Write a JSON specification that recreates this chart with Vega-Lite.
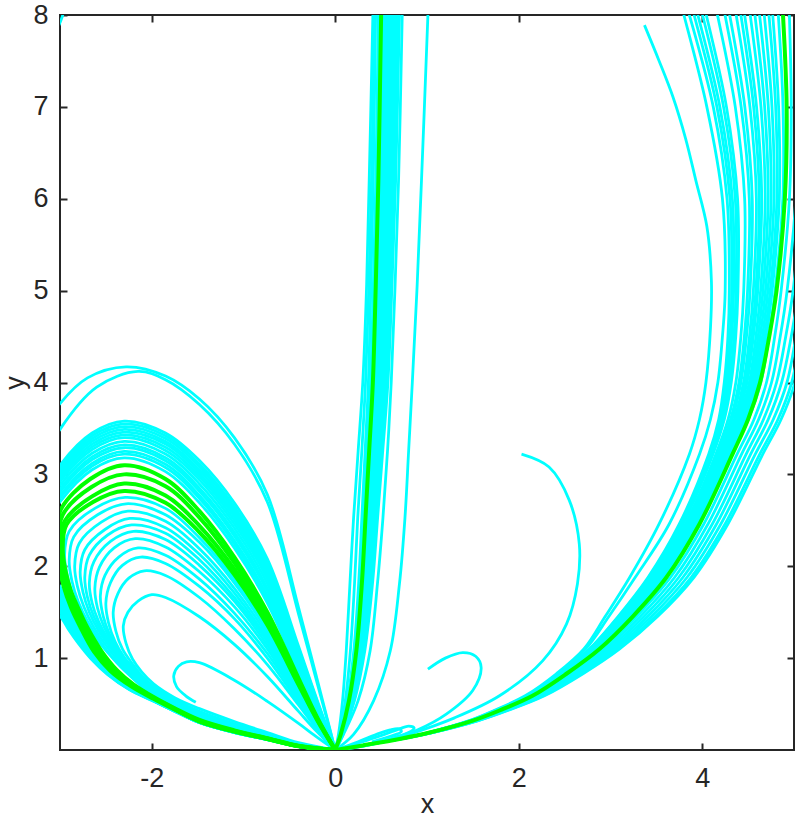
{
"$schema":"https://vega.github.io/schema/vega-lite/v6.json",
"width":734,"height":735,
"autosize":{"type":"none"},
"padding":{"left":60,"top":15,"right":2,"bottom":70},
"background":"white",
"config":{
 "view":{"stroke":"#262626","strokeWidth":2},
 "axis":{"grid":false,"domain":false,"tickColor":"#262626","tickWidth":2,"tickSize":-7,"labelColor":"#262626","titleColor":"#262626","labelFont":"Liberation Sans","titleFont":"Liberation Sans","labelFontSize":27,"titleFontSize":27,"titleFontWeight":"normal","labelOverlap":false,"labelFlush":false}
},
"datasets":{
"cy":[
{"c":"L169","i":0,"x":0,"y":0},{"c":"L169","i":1,"x":-0.2,"y":0.2},{"c":"L169","i":2,"x":-0.4,"y":0.42},{"c":"L169","i":3,"x":-0.74,"y":0.8},{"c":"L169","i":4,"x":-1.1,"y":1.15},{"c":"L169","i":5,"x":-1.48,"y":1.45},{"c":"L169","i":6,"x":-1.85,"y":1.66},{"c":"L169","i":7,"x":-2.0,"y":1.69},{"c":"L169","i":8,"x":-2.15,"y":1.62},{"c":"L169","i":9,"x":-2.26,"y":1.5},{"c":"L169","i":10,"x":-2.31,"y":1.35},{"c":"L169","i":11,"x":-2.28,"y":1.16},{"c":"L169","i":12,"x":-2.21,"y":0.99},{"c":"L169","i":13,"x":-2.11,"y":0.85},{"c":"L169","i":14,"x":-1.98,"y":0.72},{"c":"L169","i":15,"x":-1.75,"y":0.57},{"c":"L169","i":16,"x":-1.48,"y":0.45},{"c":"L169","i":17,"x":-1.1,"y":0.31},{"c":"L169","i":18,"x":-0.74,"y":0.19},{"c":"L169","i":19,"x":-0.4,"y":0.08},{"c":"L169","i":20,"x":0,"y":0},
{"c":"L195","i":0,"x":0,"y":0},{"c":"L195","i":1,"x":-0.2,"y":0.23},{"c":"L195","i":2,"x":-0.4,"y":0.49},{"c":"L195","i":3,"x":-0.74,"y":0.93},{"c":"L195","i":4,"x":-1.1,"y":1.32},{"c":"L195","i":5,"x":-1.48,"y":1.66},{"c":"L195","i":6,"x":-1.85,"y":1.9},{"c":"L195","i":7,"x":-2.08,"y":1.95},{"c":"L195","i":8,"x":-2.25,"y":1.87},{"c":"L195","i":9,"x":-2.37,"y":1.7},{"c":"L195","i":10,"x":-2.42,"y":1.5},{"c":"L195","i":11,"x":-2.39,"y":1.29},{"c":"L195","i":12,"x":-2.32,"y":1.1},{"c":"L195","i":13,"x":-2.22,"y":0.95},{"c":"L195","i":14,"x":-2.1,"y":0.8},{"c":"L195","i":15,"x":-1.98,"y":0.69},{"c":"L195","i":16,"x":-1.75,"y":0.55},{"c":"L195","i":17,"x":-1.48,"y":0.42},{"c":"L195","i":18,"x":-1.1,"y":0.285},{"c":"L195","i":19,"x":-0.74,"y":0.175},{"c":"L195","i":20,"x":-0.4,"y":0.07},{"c":"L195","i":21,"x":0,"y":0},
{"c":"L210","i":0,"x":0,"y":0},{"c":"L210","i":1,"x":-0.2,"y":0.25},{"c":"L210","i":2,"x":-0.4,"y":0.52},{"c":"L210","i":3,"x":-0.74,"y":1.0},{"c":"L210","i":4,"x":-1.1,"y":1.43},{"c":"L210","i":5,"x":-1.48,"y":1.78},{"c":"L210","i":6,"x":-1.85,"y":2.03},{"c":"L210","i":7,"x":-2.12,"y":2.1},{"c":"L210","i":8,"x":-2.32,"y":2.01},{"c":"L210","i":9,"x":-2.45,"y":1.82},{"c":"L210","i":10,"x":-2.5,"y":1.6},{"c":"L210","i":11,"x":-2.47,"y":1.38},{"c":"L210","i":12,"x":-2.4,"y":1.18},{"c":"L210","i":13,"x":-2.3,"y":1.01},{"c":"L210","i":14,"x":-2.16,"y":0.85},{"c":"L210","i":15,"x":-1.98,"y":0.67},{"c":"L210","i":16,"x":-1.75,"y":0.54},{"c":"L210","i":17,"x":-1.48,"y":0.405},{"c":"L210","i":18,"x":-1.1,"y":0.272},{"c":"L210","i":19,"x":-0.74,"y":0.167},{"c":"L210","i":20,"x":-0.4,"y":0.066},{"c":"L210","i":21,"x":0,"y":0},
{"c":"L220","i":0,"x":0,"y":0},{"c":"L220","i":1,"x":-0.2,"y":0.26},{"c":"L220","i":2,"x":-0.4,"y":0.55},{"c":"L220","i":3,"x":-0.74,"y":1.05},{"c":"L220","i":4,"x":-1.1,"y":1.49},{"c":"L220","i":5,"x":-1.48,"y":1.86},{"c":"L220","i":6,"x":-1.85,"y":2.12},{"c":"L220","i":7,"x":-2.15,"y":2.2},{"c":"L220","i":8,"x":-2.36,"y":2.1},{"c":"L220","i":9,"x":-2.51,"y":1.9},{"c":"L220","i":10,"x":-2.56,"y":1.68},{"c":"L220","i":11,"x":-2.53,"y":1.46},{"c":"L220","i":12,"x":-2.46,"y":1.26},{"c":"L220","i":13,"x":-2.36,"y":1.08},{"c":"L220","i":14,"x":-2.22,"y":0.9},{"c":"L220","i":15,"x":-1.98,"y":0.655},{"c":"L220","i":16,"x":-1.75,"y":0.525},{"c":"L220","i":17,"x":-1.48,"y":0.393},{"c":"L220","i":18,"x":-1.1,"y":0.263},{"c":"L220","i":19,"x":-0.74,"y":0.161},{"c":"L220","i":20,"x":-0.4,"y":0.063},{"c":"L220","i":21,"x":0,"y":0},
{"c":"L230","i":0,"x":0,"y":0},{"c":"L230","i":1,"x":-0.2,"y":0.27},{"c":"L230","i":2,"x":-0.4,"y":0.57},{"c":"L230","i":3,"x":-0.74,"y":1.1},{"c":"L230","i":4,"x":-1.1,"y":1.56},{"c":"L230","i":5,"x":-1.48,"y":1.94},{"c":"L230","i":6,"x":-1.85,"y":2.21},{"c":"L230","i":7,"x":-2.18,"y":2.3},{"c":"L230","i":8,"x":-2.41,"y":2.2},{"c":"L230","i":9,"x":-2.57,"y":1.99},{"c":"L230","i":10,"x":-2.62,"y":1.76},{"c":"L230","i":11,"x":-2.59,"y":1.54},{"c":"L230","i":12,"x":-2.52,"y":1.34},{"c":"L230","i":13,"x":-2.42,"y":1.15},{"c":"L230","i":14,"x":-2.28,"y":0.96},{"c":"L230","i":15,"x":-2.12,"y":0.78},{"c":"L230","i":16,"x":-1.98,"y":0.64},{"c":"L230","i":17,"x":-1.75,"y":0.51},{"c":"L230","i":18,"x":-1.48,"y":0.381},{"c":"L230","i":19,"x":-1.1,"y":0.254},{"c":"L230","i":20,"x":-0.74,"y":0.155},{"c":"L230","i":21,"x":-0.4,"y":0.06},{"c":"L230","i":22,"x":0,"y":0},
{"c":"L238","i":0,"x":0,"y":0},{"c":"L238","i":1,"x":-0.2,"y":0.28},{"c":"L238","i":2,"x":-0.4,"y":0.6},{"c":"L238","i":3,"x":-0.74,"y":1.14},{"c":"L238","i":4,"x":-1.1,"y":1.62},{"c":"L238","i":5,"x":-1.48,"y":2.01},{"c":"L238","i":6,"x":-1.85,"y":2.29},{"c":"L238","i":7,"x":-2.2,"y":2.38},{"c":"L238","i":8,"x":-2.45,"y":2.27},{"c":"L238","i":9,"x":-2.63,"y":2.05},{"c":"L238","i":10,"x":-2.68,"y":1.82},{"c":"L238","i":11,"x":-2.65,"y":1.6},{"c":"L238","i":12,"x":-2.58,"y":1.4},{"c":"L238","i":13,"x":-2.48,"y":1.21},{"c":"L238","i":14,"x":-2.34,"y":1.02},{"c":"L238","i":15,"x":-2.17,"y":0.83},{"c":"L238","i":16,"x":-1.98,"y":0.64},{"c":"L238","i":17,"x":-1.75,"y":0.5},{"c":"L238","i":18,"x":-1.48,"y":0.372},{"c":"L238","i":19,"x":-1.1,"y":0.247},{"c":"L238","i":20,"x":-0.74,"y":0.151},{"c":"L238","i":21,"x":-0.4,"y":0.058},{"c":"L238","i":22,"x":0,"y":0},
{"c":"L245","i":0,"x":0,"y":0},{"c":"L245","i":1,"x":-0.2,"y":0.29},{"c":"L245","i":2,"x":-0.4,"y":0.61},{"c":"L245","i":3,"x":-0.74,"y":1.18},{"c":"L245","i":4,"x":-1.1,"y":1.66},{"c":"L245","i":5,"x":-1.48,"y":2.07},{"c":"L245","i":6,"x":-1.85,"y":2.36},{"c":"L245","i":7,"x":-2.22,"y":2.45},{"c":"L245","i":8,"x":-2.48,"y":2.34},{"c":"L245","i":9,"x":-2.68,"y":2.12},{"c":"L245","i":10,"x":-2.73,"y":1.88},{"c":"L245","i":11,"x":-2.7,"y":1.66},{"c":"L245","i":12,"x":-2.63,"y":1.45},{"c":"L245","i":13,"x":-2.53,"y":1.26},{"c":"L245","i":14,"x":-2.39,"y":1.06},{"c":"L245","i":15,"x":-2.22,"y":0.86},{"c":"L245","i":16,"x":-1.98,"y":0.618},{"c":"L245","i":17,"x":-1.75,"y":0.49},{"c":"L245","i":18,"x":-1.48,"y":0.364},{"c":"L245","i":19,"x":-1.1,"y":0.241},{"c":"L245","i":20,"x":-0.74,"y":0.147},{"c":"L245","i":21,"x":-0.4,"y":0.056},{"c":"L245","i":22,"x":0,"y":0},
{"c":"L252","i":0,"x":0,"y":0},{"c":"L252","i":1,"x":-0.2,"y":0.29},{"c":"L252","i":2,"x":-0.4,"y":0.63},{"c":"L252","i":3,"x":-0.74,"y":1.21},{"c":"L252","i":4,"x":-1.1,"y":1.71},{"c":"L252","i":5,"x":-1.48,"y":2.13},{"c":"L252","i":6,"x":-1.85,"y":2.42},{"c":"L252","i":7,"x":-2.24,"y":2.52},{"c":"L252","i":8,"x":-2.51,"y":2.4},{"c":"L252","i":9,"x":-2.73,"y":2.18},{"c":"L252","i":10,"x":-2.78,"y":1.94},{"c":"L252","i":11,"x":-2.75,"y":1.72},{"c":"L252","i":12,"x":-2.68,"y":1.5},{"c":"L252","i":13,"x":-2.58,"y":1.3},{"c":"L252","i":14,"x":-2.44,"y":1.1},{"c":"L252","i":15,"x":-2.27,"y":0.89},{"c":"L252","i":16,"x":-1.98,"y":0.608},{"c":"L252","i":17,"x":-1.75,"y":0.48},{"c":"L252","i":18,"x":-1.48,"y":0.356},{"c":"L252","i":19,"x":-1.1,"y":0.235},{"c":"L252","i":20,"x":-0.74,"y":0.143},{"c":"L252","i":21,"x":-0.4,"y":0.054},{"c":"L252","i":22,"x":0,"y":0},
{"c":"L260","i":0,"x":0,"y":0},{"c":"L260","i":1,"x":-0.2,"y":0.3},{"c":"L260","i":2,"x":-0.4,"y":0.65},{"c":"L260","i":3,"x":-0.74,"y":1.25},{"c":"L260","i":4,"x":-1.1,"y":1.76},{"c":"L260","i":5,"x":-1.48,"y":2.19},{"c":"L260","i":6,"x":-1.85,"y":2.49},{"c":"L260","i":7,"x":-2.26,"y":2.6},{"c":"L260","i":8,"x":-2.55,"y":2.48},{"c":"L260","i":9,"x":-2.79,"y":2.25},{"c":"L260","i":10,"x":-2.84,"y":2.0},{"c":"L260","i":11,"x":-2.81,"y":1.78},{"c":"L260","i":12,"x":-2.74,"y":1.56},{"c":"L260","i":13,"x":-2.64,"y":1.35},{"c":"L260","i":14,"x":-2.5,"y":1.14},{"c":"L260","i":15,"x":-2.32,"y":0.92},{"c":"L260","i":16,"x":-1.98,"y":0.598},{"c":"L260","i":17,"x":-1.75,"y":0.47},{"c":"L260","i":18,"x":-1.48,"y":0.348},{"c":"L260","i":19,"x":-1.1,"y":0.229},{"c":"L260","i":20,"x":-0.74,"y":0.139},{"c":"L260","i":21,"x":-0.4,"y":0.052},{"c":"L260","i":22,"x":0,"y":0},
{"c":"L268","i":0,"x":0,"y":0},{"c":"L268","i":1,"x":-0.2,"y":0.31},{"c":"L268","i":2,"x":-0.4,"y":0.67},{"c":"L268","i":3,"x":-0.74,"y":1.29},{"c":"L268","i":4,"x":-1.1,"y":1.82},{"c":"L268","i":5,"x":-1.48,"y":2.26},{"c":"L268","i":6,"x":-1.85,"y":2.56},{"c":"L268","i":7,"x":-2.28,"y":2.68},{"c":"L268","i":8,"x":-2.59,"y":2.56},{"c":"L268","i":9,"x":-2.85,"y":2.32},{"c":"L268","i":10,"x":-2.9,"y":2.06},{"c":"L268","i":11,"x":-2.87,"y":1.84},{"c":"L268","i":12,"x":-2.8,"y":1.61},{"c":"L268","i":13,"x":-2.7,"y":1.4},{"c":"L268","i":14,"x":-2.56,"y":1.18},{"c":"L268","i":15,"x":-2.38,"y":0.95},{"c":"L268","i":16,"x":-2.15,"y":0.73},{"c":"L268","i":17,"x":-1.98,"y":0.588},{"c":"L268","i":18,"x":-1.75,"y":0.46},{"c":"L268","i":19,"x":-1.48,"y":0.34},{"c":"L268","i":20,"x":-1.1,"y":0.223},{"c":"L268","i":21,"x":-0.74,"y":0.135},{"c":"L268","i":22,"x":-0.4,"y":0.05},{"c":"L268","i":23,"x":0,"y":0},
{"c":"L275","i":0,"x":0,"y":0},{"c":"L275","i":1,"x":-0.2,"y":0.32},{"c":"L275","i":2,"x":-0.4,"y":0.69},{"c":"L275","i":3,"x":-0.74,"y":1.33},{"c":"L275","i":4,"x":-1.1,"y":1.86},{"c":"L275","i":5,"x":-1.48,"y":2.31},{"c":"L275","i":6,"x":-1.85,"y":2.63},{"c":"L275","i":7,"x":-2.29,"y":2.75},{"c":"L275","i":8,"x":-2.62,"y":2.63},{"c":"L275","i":9,"x":-2.9,"y":2.38},{"c":"L275","i":10,"x":-2.95,"y":2.12},{"c":"L275","i":11,"x":-2.92,"y":1.9},{"c":"L275","i":12,"x":-2.86,"y":1.68},{"c":"L275","i":13,"x":-2.77,"y":1.47},{"c":"L275","i":14,"x":-2.64,"y":1.26},{"c":"L275","i":15,"x":-2.48,"y":1.06},{"c":"L275","i":16,"x":-2.28,"y":0.86},{"c":"L275","i":17,"x":-1.98,"y":0.58},{"c":"L275","i":18,"x":-1.75,"y":0.452},{"c":"L275","i":19,"x":-1.48,"y":0.334},{"c":"L275","i":20,"x":-1.1,"y":0.218},{"c":"L275","i":21,"x":-0.74,"y":0.132},{"c":"L275","i":22,"x":-0.4,"y":0.048},{"c":"L275","i":23,"x":0,"y":0},
{"c":"B318","i":0,"x":0,"y":0},{"c":"B318","i":1,"x":-0.2,"y":0.39},{"c":"B318","i":2,"x":-0.4,"y":0.84},{"c":"B318","i":3,"x":-0.74,"y":1.6},{"c":"B318","i":4,"x":-1.1,"y":2.2},{"c":"B318","i":5,"x":-1.48,"y":2.69},{"c":"B318","i":6,"x":-1.85,"y":3.03},{"c":"B318","i":7,"x":-2.3,"y":3.18},{"c":"B318","i":8,"x":-2.65,"y":3.05},{"c":"B318","i":9,"x":-3.0,"y":2.7},{"c":"B318","i":10,"x":-3.3,"y":2.18},{"c":"B318","i":11,"x":-3.3,"y":2.08},{"c":"B318","i":12,"x":-3.0,"y":1.78},{"c":"B318","i":13,"x":-2.9,"y":1.52},{"c":"B318","i":14,"x":-2.8,"y":1.31},{"c":"B318","i":15,"x":-2.66,"y":1.08},{"c":"B318","i":16,"x":-2.48,"y":0.87},{"c":"B318","i":17,"x":-2.25,"y":0.69},{"c":"B318","i":18,"x":-1.98,"y":0.55},{"c":"B318","i":19,"x":-1.75,"y":0.435},{"c":"B318","i":20,"x":-1.48,"y":0.305},{"c":"B318","i":21,"x":-1.1,"y":0.196},{"c":"B318","i":22,"x":-0.74,"y":0.117},{"c":"B318","i":23,"x":-0.4,"y":0.039},{"c":"B318","i":24,"x":0,"y":0},
{"c":"B322","i":0,"x":0,"y":0},{"c":"B322","i":1,"x":-0.2,"y":0.407},{"c":"B322","i":2,"x":-0.4,"y":0.866},{"c":"B322","i":3,"x":-0.74,"y":1.643},{"c":"B322","i":4,"x":-1.1,"y":2.246},{"c":"B322","i":5,"x":-1.48,"y":2.737},{"c":"B322","i":6,"x":-1.85,"y":3.075},{"c":"B322","i":7,"x":-2.3,"y":3.22},{"c":"B322","i":8,"x":-2.65,"y":3.09},{"c":"B322","i":9,"x":-3.0,"y":2.74},{"c":"B322","i":10,"x":-3.3,"y":2.22},{"c":"B322","i":11,"x":-3.3,"y":2.05},{"c":"B322","i":12,"x":-3.0,"y":1.75},{"c":"B322","i":13,"x":-2.9,"y":1.499},{"c":"B322","i":14,"x":-2.8,"y":1.296},{"c":"B322","i":15,"x":-2.66,"y":1.072},{"c":"B322","i":16,"x":-2.48,"y":0.865},{"c":"B322","i":17,"x":-2.25,"y":0.687},{"c":"B322","i":18,"x":-1.98,"y":0.548},{"c":"B322","i":19,"x":-1.75,"y":0.434},{"c":"B322","i":20,"x":-1.48,"y":0.304},{"c":"B322","i":21,"x":-1.1,"y":0.195},{"c":"B322","i":22,"x":-0.74,"y":0.117},{"c":"B322","i":23,"x":-0.4,"y":0.039},{"c":"B322","i":24,"x":0,"y":0},
{"c":"B325","i":0,"x":0,"y":0},{"c":"B325","i":1,"x":-0.2,"y":0.42},{"c":"B325","i":2,"x":-0.4,"y":0.89},{"c":"B325","i":3,"x":-0.74,"y":1.68},{"c":"B325","i":4,"x":-1.1,"y":2.28},{"c":"B325","i":5,"x":-1.48,"y":2.77},{"c":"B325","i":6,"x":-1.85,"y":3.11},{"c":"B325","i":7,"x":-2.3,"y":3.25},{"c":"B325","i":8,"x":-2.65,"y":3.12},{"c":"B325","i":9,"x":-3.0,"y":2.77},{"c":"B325","i":10,"x":-3.3,"y":2.25},{"c":"B325","i":11,"x":-3.3,"y":2.02},{"c":"B325","i":12,"x":-3.0,"y":1.72},{"c":"B325","i":13,"x":-2.9,"y":1.478},{"c":"B325","i":14,"x":-2.8,"y":1.282},{"c":"B325","i":15,"x":-2.66,"y":1.063},{"c":"B325","i":16,"x":-2.48,"y":0.861},{"c":"B325","i":17,"x":-2.25,"y":0.684},{"c":"B325","i":18,"x":-1.98,"y":0.546},{"c":"B325","i":19,"x":-1.75,"y":0.432},{"c":"B325","i":20,"x":-1.48,"y":0.304},{"c":"B325","i":21,"x":-1.1,"y":0.195},{"c":"B325","i":22,"x":-0.74,"y":0.116},{"c":"B325","i":23,"x":-0.4,"y":0.039},{"c":"B325","i":24,"x":0,"y":0},
{"c":"B329","i":0,"x":0,"y":0},{"c":"B329","i":1,"x":-0.2,"y":0.435},{"c":"B329","i":2,"x":-0.4,"y":0.917},{"c":"B329","i":3,"x":-0.74,"y":1.728},{"c":"B329","i":4,"x":-1.1,"y":2.331},{"c":"B329","i":5,"x":-1.48,"y":2.817},{"c":"B329","i":6,"x":-1.85,"y":3.149},{"c":"B329","i":7,"x":-2.3,"y":3.29},{"c":"B329","i":8,"x":-2.65,"y":3.16},{"c":"B329","i":9,"x":-3.0,"y":2.81},{"c":"B329","i":10,"x":-3.3,"y":2.29},{"c":"B329","i":11,"x":-3.3,"y":2.0},{"c":"B329","i":12,"x":-3.0,"y":1.7},{"c":"B329","i":13,"x":-2.9,"y":1.465},{"c":"B329","i":14,"x":-2.8,"y":1.273},{"c":"B329","i":15,"x":-2.66,"y":1.058},{"c":"B329","i":16,"x":-2.48,"y":0.858},{"c":"B329","i":17,"x":-2.25,"y":0.683},{"c":"B329","i":18,"x":-1.98,"y":0.545},{"c":"B329","i":19,"x":-1.75,"y":0.431},{"c":"B329","i":20,"x":-1.48,"y":0.303},{"c":"B329","i":21,"x":-1.1,"y":0.195},{"c":"B329","i":22,"x":-0.74,"y":0.116},{"c":"B329","i":23,"x":-0.4,"y":0.039},{"c":"B329","i":24,"x":0,"y":0},
{"c":"B332","i":0,"x":0,"y":0},{"c":"B332","i":1,"x":-0.2,"y":0.45},{"c":"B332","i":2,"x":-0.4,"y":0.94},{"c":"B332","i":3,"x":-0.74,"y":1.76},{"c":"B332","i":4,"x":-1.1,"y":2.37},{"c":"B332","i":5,"x":-1.48,"y":2.85},{"c":"B332","i":6,"x":-1.85,"y":3.18},{"c":"B332","i":7,"x":-2.3,"y":3.32},{"c":"B332","i":8,"x":-2.65,"y":3.19},{"c":"B332","i":9,"x":-3.0,"y":2.84},{"c":"B332","i":10,"x":-3.3,"y":2.32},{"c":"B332","i":11,"x":-3.3,"y":1.98},{"c":"B332","i":12,"x":-3.0,"y":1.68},{"c":"B332","i":13,"x":-2.9,"y":1.452},{"c":"B332","i":14,"x":-2.8,"y":1.264},{"c":"B332","i":15,"x":-2.66,"y":1.052},{"c":"B332","i":16,"x":-2.48,"y":0.855},{"c":"B332","i":17,"x":-2.25,"y":0.681},{"c":"B332","i":18,"x":-1.98,"y":0.544},{"c":"B332","i":19,"x":-1.75,"y":0.43},{"c":"B332","i":20,"x":-1.48,"y":0.303},{"c":"B332","i":21,"x":-1.1,"y":0.194},{"c":"B332","i":22,"x":-0.74,"y":0.116},{"c":"B332","i":23,"x":-0.4,"y":0.038},{"c":"B332","i":24,"x":0,"y":0},
{"c":"B336","i":0,"x":0,"y":0},{"c":"B336","i":1,"x":-0.2,"y":0.462},{"c":"B336","i":2,"x":-0.4,"y":0.967},{"c":"B336","i":3,"x":-0.74,"y":1.811},{"c":"B336","i":4,"x":-1.1,"y":2.416},{"c":"B336","i":5,"x":-1.48,"y":2.896},{"c":"B336","i":6,"x":-1.85,"y":3.222},{"c":"B336","i":7,"x":-2.3,"y":3.36},{"c":"B336","i":8,"x":-2.65,"y":3.23},{"c":"B336","i":9,"x":-3.0,"y":2.88},{"c":"B336","i":10,"x":-3.3,"y":2.36},{"c":"B336","i":11,"x":-3.3,"y":1.96},{"c":"B336","i":12,"x":-3.0,"y":1.66},{"c":"B336","i":13,"x":-2.9,"y":1.438},{"c":"B336","i":14,"x":-2.8,"y":1.254},{"c":"B336","i":15,"x":-2.66,"y":1.046},{"c":"B336","i":16,"x":-2.48,"y":0.851},{"c":"B336","i":17,"x":-2.25,"y":0.679},{"c":"B336","i":18,"x":-1.98,"y":0.543},{"c":"B336","i":19,"x":-1.75,"y":0.429},{"c":"B336","i":20,"x":-1.48,"y":0.302},{"c":"B336","i":21,"x":-1.1,"y":0.194},{"c":"B336","i":22,"x":-0.74,"y":0.116},{"c":"B336","i":23,"x":-0.4,"y":0.038},{"c":"B336","i":24,"x":0,"y":0},
{"c":"B340","i":0,"x":0,"y":0},{"c":"B340","i":1,"x":-0.2,"y":0.48},{"c":"B340","i":2,"x":-0.4,"y":1.0},{"c":"B340","i":3,"x":-0.74,"y":1.86},{"c":"B340","i":4,"x":-1.1,"y":2.46},{"c":"B340","i":5,"x":-1.48,"y":2.94},{"c":"B340","i":6,"x":-1.85,"y":3.26},{"c":"B340","i":7,"x":-2.3,"y":3.4},{"c":"B340","i":8,"x":-2.65,"y":3.27},{"c":"B340","i":9,"x":-3.0,"y":2.92},{"c":"B340","i":10,"x":-3.3,"y":2.4},{"c":"B340","i":11,"x":-3.3,"y":1.93},{"c":"B340","i":12,"x":-3.0,"y":1.63},{"c":"B340","i":13,"x":-2.9,"y":1.417},{"c":"B340","i":14,"x":-2.8,"y":1.24},{"c":"B340","i":15,"x":-2.66,"y":1.038},{"c":"B340","i":16,"x":-2.48,"y":0.847},{"c":"B340","i":17,"x":-2.25,"y":0.676},{"c":"B340","i":18,"x":-1.98,"y":0.541},{"c":"B340","i":19,"x":-1.75,"y":0.428},{"c":"B340","i":20,"x":-1.48,"y":0.302},{"c":"B340","i":21,"x":-1.1,"y":0.193},{"c":"B340","i":22,"x":-0.74,"y":0.115},{"c":"B340","i":23,"x":-0.4,"y":0.038},{"c":"B340","i":24,"x":0,"y":0},
{"c":"B343","i":0,"x":0,"y":0},{"c":"B343","i":1,"x":-0.2,"y":0.489},{"c":"B343","i":2,"x":-0.4,"y":1.017},{"c":"B343","i":3,"x":-0.74,"y":1.894},{"c":"B343","i":4,"x":-1.1,"y":2.5},{"c":"B343","i":5,"x":-1.48,"y":2.976},{"c":"B343","i":6,"x":-1.85,"y":3.295},{"c":"B343","i":7,"x":-2.3,"y":3.43},{"c":"B343","i":8,"x":-2.65,"y":3.3},{"c":"B343","i":9,"x":-3.0,"y":2.95},{"c":"B343","i":10,"x":-3.3,"y":2.43},{"c":"B343","i":11,"x":-3.3,"y":1.91},{"c":"B343","i":12,"x":-3.0,"y":1.61},{"c":"B343","i":13,"x":-2.9,"y":1.403},{"c":"B343","i":14,"x":-2.8,"y":1.231},{"c":"B343","i":15,"x":-2.66,"y":1.032},{"c":"B343","i":16,"x":-2.48,"y":0.844},{"c":"B343","i":17,"x":-2.25,"y":0.674},{"c":"B343","i":18,"x":-1.98,"y":0.539},{"c":"B343","i":19,"x":-1.75,"y":0.427},{"c":"B343","i":20,"x":-1.48,"y":0.301},{"c":"B343","i":21,"x":-1.1,"y":0.193},{"c":"B343","i":22,"x":-0.74,"y":0.115},{"c":"B343","i":23,"x":-0.4,"y":0.038},{"c":"B343","i":24,"x":0,"y":0},
{"c":"B346","i":0,"x":0,"y":0},{"c":"B346","i":1,"x":-0.2,"y":0.5},{"c":"B346","i":2,"x":-0.4,"y":1.04},{"c":"B346","i":3,"x":-0.74,"y":1.93},{"c":"B346","i":4,"x":-1.1,"y":2.54},{"c":"B346","i":5,"x":-1.48,"y":3.01},{"c":"B346","i":6,"x":-1.85,"y":3.33},{"c":"B346","i":7,"x":-2.3,"y":3.46},{"c":"B346","i":8,"x":-2.65,"y":3.33},{"c":"B346","i":9,"x":-3.0,"y":2.98},{"c":"B346","i":10,"x":-3.3,"y":2.46},{"c":"B346","i":11,"x":-3.3,"y":1.9},{"c":"B346","i":12,"x":-3.0,"y":1.6},{"c":"B346","i":13,"x":-2.9,"y":1.397},{"c":"B346","i":14,"x":-2.8,"y":1.226},{"c":"B346","i":15,"x":-2.66,"y":1.03},{"c":"B346","i":16,"x":-2.48,"y":0.842},{"c":"B346","i":17,"x":-2.25,"y":0.673},{"c":"B346","i":18,"x":-1.98,"y":0.539},{"c":"B346","i":19,"x":-1.75,"y":0.427},{"c":"B346","i":20,"x":-1.48,"y":0.301},{"c":"B346","i":21,"x":-1.1,"y":0.193},{"c":"B346","i":22,"x":-0.74,"y":0.115},{"c":"B346","i":23,"x":-0.4,"y":0.038},{"c":"B346","i":24,"x":0,"y":0},
{"c":"B349","i":0,"x":0,"y":0},{"c":"B349","i":1,"x":-0.2,"y":0.513},{"c":"B349","i":2,"x":-0.4,"y":1.06},{"c":"B349","i":3,"x":-0.74,"y":1.966},{"c":"B349","i":4,"x":-1.1,"y":2.573},{"c":"B349","i":5,"x":-1.48,"y":3.044},{"c":"B349","i":6,"x":-1.85,"y":3.358},{"c":"B349","i":7,"x":-2.3,"y":3.49},{"c":"B349","i":8,"x":-2.65,"y":3.36},{"c":"B349","i":9,"x":-3.0,"y":3.01},{"c":"B349","i":10,"x":-3.3,"y":2.49},{"c":"B349","i":11,"x":-3.3,"y":1.88},{"c":"B349","i":12,"x":-3.0,"y":1.58},{"c":"B349","i":13,"x":-2.9,"y":1.383},{"c":"B349","i":14,"x":-2.8,"y":1.216},{"c":"B349","i":15,"x":-2.66,"y":1.024},{"c":"B349","i":16,"x":-2.48,"y":0.839},{"c":"B349","i":17,"x":-2.25,"y":0.671},{"c":"B349","i":18,"x":-1.98,"y":0.538},{"c":"B349","i":19,"x":-1.75,"y":0.426},{"c":"B349","i":20,"x":-1.48,"y":0.301},{"c":"B349","i":21,"x":-1.1,"y":0.192},{"c":"B349","i":22,"x":-0.74,"y":0.115},{"c":"B349","i":23,"x":-0.4,"y":0.038},{"c":"B349","i":24,"x":0,"y":0},
{"c":"B352","i":0,"x":0,"y":0},{"c":"B352","i":1,"x":-0.2,"y":0.52},{"c":"B352","i":2,"x":-0.4,"y":1.08},{"c":"B352","i":3,"x":-0.74,"y":2.0},{"c":"B352","i":4,"x":-1.1,"y":2.61},{"c":"B352","i":5,"x":-1.48,"y":3.08},{"c":"B352","i":6,"x":-1.85,"y":3.39},{"c":"B352","i":7,"x":-2.3,"y":3.52},{"c":"B352","i":8,"x":-2.65,"y":3.39},{"c":"B352","i":9,"x":-3.0,"y":3.04},{"c":"B352","i":10,"x":-3.3,"y":2.52},{"c":"B352","i":11,"x":-3.3,"y":1.86},{"c":"B352","i":12,"x":-3.0,"y":1.56},{"c":"B352","i":13,"x":-2.9,"y":1.368},{"c":"B352","i":14,"x":-2.8,"y":1.207},{"c":"B352","i":15,"x":-2.66,"y":1.018},{"c":"B352","i":16,"x":-2.48,"y":0.836},{"c":"B352","i":17,"x":-2.25,"y":0.669},{"c":"B352","i":18,"x":-1.98,"y":0.536},{"c":"B352","i":19,"x":-1.75,"y":0.425},{"c":"B352","i":20,"x":-1.48,"y":0.3},{"c":"B352","i":21,"x":-1.1,"y":0.192},{"c":"B352","i":22,"x":-0.74,"y":0.114},{"c":"B352","i":23,"x":-0.4,"y":0.038},{"c":"B352","i":24,"x":0,"y":0},
{"c":"B355","i":0,"x":0,"y":0},{"c":"B355","i":1,"x":-0.2,"y":0.536},{"c":"B355","i":2,"x":-0.4,"y":1.103},{"c":"B355","i":3,"x":-0.74,"y":2.038},{"c":"B355","i":4,"x":-1.1,"y":2.646},{"c":"B355","i":5,"x":-1.48,"y":3.112},{"c":"B355","i":6,"x":-1.85,"y":3.42},{"c":"B355","i":7,"x":-2.3,"y":3.55},{"c":"B355","i":8,"x":-2.65,"y":3.42},{"c":"B355","i":9,"x":-3.0,"y":3.07},{"c":"B355","i":10,"x":-3.3,"y":2.55},{"c":"B355","i":11,"x":-3.3,"y":1.84},{"c":"B355","i":12,"x":-3.0,"y":1.54},{"c":"B355","i":13,"x":-2.9,"y":1.355},{"c":"B355","i":14,"x":-2.8,"y":1.198},{"c":"B355","i":15,"x":-2.66,"y":1.013},{"c":"B355","i":16,"x":-2.48,"y":0.833},{"c":"B355","i":17,"x":-2.25,"y":0.668},{"c":"B355","i":18,"x":-1.98,"y":0.535},{"c":"B355","i":19,"x":-1.75,"y":0.424},{"c":"B355","i":20,"x":-1.48,"y":0.3},{"c":"B355","i":21,"x":-1.1,"y":0.192},{"c":"B355","i":22,"x":-0.74,"y":0.114},{"c":"B355","i":23,"x":-0.4,"y":0.038},{"c":"B355","i":24,"x":0,"y":0},
{"c":"B358","i":0,"x":0,"y":0},{"c":"B358","i":1,"x":-0.2,"y":0.55},{"c":"B358","i":2,"x":-0.4,"y":1.13},{"c":"B358","i":3,"x":-0.74,"y":2.08},{"c":"B358","i":4,"x":-1.1,"y":2.69},{"c":"B358","i":5,"x":-1.48,"y":3.15},{"c":"B358","i":6,"x":-1.85,"y":3.45},{"c":"B358","i":7,"x":-2.3,"y":3.58},{"c":"B358","i":8,"x":-2.65,"y":3.45},{"c":"B358","i":9,"x":-3.0,"y":3.1},{"c":"B358","i":10,"x":-3.3,"y":2.58},{"c":"B358","i":11,"x":-3.3,"y":1.82},{"c":"B358","i":12,"x":-3.0,"y":1.52},{"c":"B358","i":13,"x":-2.9,"y":1.342},{"c":"B358","i":14,"x":-2.8,"y":1.189},{"c":"B358","i":15,"x":-2.66,"y":1.007},{"c":"B358","i":16,"x":-2.48,"y":0.83},{"c":"B358","i":17,"x":-2.25,"y":0.666},{"c":"B358","i":18,"x":-1.98,"y":0.534},{"c":"B358","i":19,"x":-1.75,"y":0.423},{"c":"B358","i":20,"x":-1.48,"y":0.299},{"c":"B358","i":21,"x":-1.1,"y":0.191},{"c":"B358","i":22,"x":-0.74,"y":0.114},{"c":"B358","i":23,"x":-0.4,"y":0.037},{"c":"B358","i":24,"x":0,"y":0},
{"c":"BB","i":0,"x":0,"y":0},{"c":"BB","i":1,"x":-0.2,"y":0.74},{"c":"BB","i":2,"x":-0.4,"y":1.48},{"c":"BB","i":3,"x":-0.74,"y":2.7},{"c":"BB","i":4,"x":-1.1,"y":3.33},{"c":"BB","i":5,"x":-1.48,"y":3.76},{"c":"BB","i":6,"x":-1.85,"y":4.03},{"c":"BB","i":7,"x":-2.15,"y":4.12},{"c":"BB","i":8,"x":-2.6,"y":3.95},{"c":"BB","i":9,"x":-3.0,"y":3.49},{"c":"BB","i":10,"x":-3.3,"y":2.9},{"c":"BB","i":11,"x":-3.3,"y":1.8},{"c":"BB","i":12,"x":-3.0,"y":1.5},{"c":"BB","i":13,"x":-2.9,"y":1.328},{"c":"BB","i":14,"x":-2.8,"y":1.179},{"c":"BB","i":15,"x":-2.66,"y":1.001},{"c":"BB","i":16,"x":-2.48,"y":0.826},{"c":"BB","i":17,"x":-2.25,"y":0.664},{"c":"BB","i":18,"x":-1.98,"y":0.533},{"c":"BB","i":19,"x":-1.75,"y":0.422},{"c":"BB","i":20,"x":-1.48,"y":0.299},{"c":"BB","i":21,"x":-1.1,"y":0.191},{"c":"BB","i":22,"x":-0.74,"y":0.114},{"c":"BB","i":23,"x":-0.4,"y":0.037},{"c":"BB","i":24,"x":0,"y":0},
{"c":"BA","i":0,"x":0,"y":0},{"c":"BA","i":1,"x":-0.2,"y":0.78},{"c":"BA","i":2,"x":-0.4,"y":1.55},{"c":"BA","i":3,"x":-0.74,"y":2.78},{"c":"BA","i":4,"x":-1.1,"y":3.4},{"c":"BA","i":5,"x":-1.48,"y":3.82},{"c":"BA","i":6,"x":-1.85,"y":4.07},{"c":"BA","i":7,"x":-2.28,"y":4.17},{"c":"BA","i":8,"x":-2.7,"y":4.05},{"c":"BA","i":9,"x":-3.0,"y":3.77},{"c":"BA","i":10,"x":-3.3,"y":3.3},{"c":"BA","i":11,"x":-3.3,"y":1.76},{"c":"BA","i":12,"x":-3.0,"y":1.46},{"c":"BA","i":13,"x":-2.9,"y":1.3},{"c":"BA","i":14,"x":-2.8,"y":1.16},{"c":"BA","i":15,"x":-2.66,"y":0.99},{"c":"BA","i":16,"x":-2.48,"y":0.82},{"c":"BA","i":17,"x":-2.25,"y":0.66},{"c":"BA","i":18,"x":-1.98,"y":0.53},{"c":"BA","i":19,"x":-1.75,"y":0.42},{"c":"BA","i":20,"x":-1.48,"y":0.298},{"c":"BA","i":21,"x":-1.1,"y":0.19},{"c":"BA","i":22,"x":-0.74,"y":0.113},{"c":"BA","i":23,"x":-0.4,"y":0.037},{"c":"BA","i":24,"x":0,"y":0},
{"c":"SL","i":0,"x":-1.52,"y":0.52},{"c":"SL","i":1,"x":-1.63,"y":0.59},{"c":"SL","i":2,"x":-1.73,"y":0.69},{"c":"SL","i":3,"x":-1.76,"y":0.81},{"c":"SL","i":4,"x":-1.71,"y":0.91},{"c":"SL","i":5,"x":-1.62,"y":0.96},{"c":"SL","i":6,"x":-1.48,"y":0.95},{"c":"SL","i":7,"x":-1.1,"y":0.76},{"c":"SL","i":8,"x":-0.74,"y":0.53},{"c":"SL","i":9,"x":-0.4,"y":0.29},{"c":"SL","i":10,"x":-0.2,"y":0.14},{"c":"SL","i":11,"x":0,"y":0},
{"c":"C0","i":0,"x":0,"y":0},{"c":"C0","i":1,"x":0.035,"y":0.17},{"c":"C0","i":2,"x":0.08,"y":0.54},{"c":"C0","i":3,"x":0.12,"y":1.08},{"c":"C0","i":4,"x":0.16,"y":1.81},{"c":"C0","i":5,"x":0.2,"y":2.53},{"c":"C0","i":6,"x":0.25,"y":3.26},{"c":"C0","i":7,"x":0.3,"y":4.0},{"c":"C0","i":8,"x":0.34,"y":5.0},{"c":"C0","i":9,"x":0.37,"y":6.2},{"c":"C0","i":10,"x":0.41,"y":8.0},{"c":"C0","i":11,"x":0.415,"y":8.3},
{"c":"C0b","i":0,"x":0,"y":0},{"c":"C0b","i":1,"x":0.045,"y":0.17},{"c":"C0b","i":2,"x":0.11,"y":0.54},{"c":"C0b","i":3,"x":0.165,"y":1.08},{"c":"C0b","i":4,"x":0.21,"y":1.81},{"c":"C0b","i":5,"x":0.245,"y":2.53},{"c":"C0b","i":6,"x":0.29,"y":3.26},{"c":"C0b","i":7,"x":0.33,"y":4.0},{"c":"C0b","i":8,"x":0.365,"y":5.0},{"c":"C0b","i":9,"x":0.395,"y":6.2},{"c":"C0b","i":10,"x":0.43,"y":8.0},{"c":"C0b","i":11,"x":0.435,"y":8.3},
{"c":"C088","i":0,"x":0,"y":0},{"c":"C088","i":1,"x":0.053,"y":0.17},{"c":"C088","i":2,"x":0.132,"y":0.54},{"c":"C088","i":3,"x":0.202,"y":1.08},{"c":"C088","i":4,"x":0.255,"y":1.81},{"c":"C088","i":5,"x":0.29,"y":2.53},{"c":"C088","i":6,"x":0.326,"y":3.26},{"c":"C088","i":7,"x":0.361,"y":4.0},{"c":"C088","i":8,"x":0.387,"y":5.0},{"c":"C088","i":9,"x":0.414,"y":6.2},{"c":"C088","i":10,"x":0.44,"y":8.0},{"c":"C088","i":11,"x":0.444,"y":8.3},
{"c":"C094","i":0,"x":0,"y":0},{"c":"C094","i":1,"x":0.056,"y":0.17},{"c":"C094","i":2,"x":0.141,"y":0.54},{"c":"C094","i":3,"x":0.216,"y":1.08},{"c":"C094","i":4,"x":0.273,"y":1.81},{"c":"C094","i":5,"x":0.31,"y":2.53},{"c":"C094","i":6,"x":0.348,"y":3.26},{"c":"C094","i":7,"x":0.385,"y":4.0},{"c":"C094","i":8,"x":0.414,"y":5.0},{"c":"C094","i":9,"x":0.442,"y":6.2},{"c":"C094","i":10,"x":0.47,"y":8.0},{"c":"C094","i":11,"x":0.475,"y":8.3},
{"c":"C097","i":0,"x":0,"y":0},{"c":"C097","i":1,"x":0.058,"y":0.17},{"c":"C097","i":2,"x":0.146,"y":0.54},{"c":"C097","i":3,"x":0.223,"y":1.08},{"c":"C097","i":4,"x":0.281,"y":1.81},{"c":"C097","i":5,"x":0.32,"y":2.53},{"c":"C097","i":6,"x":0.359,"y":3.26},{"c":"C097","i":7,"x":0.398,"y":4.0},{"c":"C097","i":8,"x":0.427,"y":5.0},{"c":"C097","i":9,"x":0.456,"y":6.2},{"c":"C097","i":10,"x":0.485,"y":8.0},{"c":"C097","i":11,"x":0.49,"y":8.3},
{"c":"C103","i":0,"x":0,"y":0},{"c":"C103","i":1,"x":0.062,"y":0.17},{"c":"C103","i":2,"x":0.155,"y":0.54},{"c":"C103","i":3,"x":0.237,"y":1.08},{"c":"C103","i":4,"x":0.299,"y":1.81},{"c":"C103","i":5,"x":0.34,"y":2.53},{"c":"C103","i":6,"x":0.381,"y":3.26},{"c":"C103","i":7,"x":0.422,"y":4.0},{"c":"C103","i":8,"x":0.453,"y":5.0},{"c":"C103","i":9,"x":0.484,"y":6.2},{"c":"C103","i":10,"x":0.515,"y":8.0},{"c":"C103","i":11,"x":0.52,"y":8.3},
{"c":"C106","i":0,"x":0,"y":0},{"c":"C106","i":1,"x":0.064,"y":0.17},{"c":"C106","i":2,"x":0.159,"y":0.54},{"c":"C106","i":3,"x":0.244,"y":1.08},{"c":"C106","i":4,"x":0.307,"y":1.81},{"c":"C106","i":5,"x":0.35,"y":2.53},{"c":"C106","i":6,"x":0.392,"y":3.26},{"c":"C106","i":7,"x":0.435,"y":4.0},{"c":"C106","i":8,"x":0.466,"y":5.0},{"c":"C106","i":9,"x":0.498,"y":6.2},{"c":"C106","i":10,"x":0.53,"y":8.0},{"c":"C106","i":11,"x":0.535,"y":8.3},
{"c":"C109","i":0,"x":0,"y":0},{"c":"C109","i":1,"x":0.065,"y":0.17},{"c":"C109","i":2,"x":0.164,"y":0.54},{"c":"C109","i":3,"x":0.251,"y":1.08},{"c":"C109","i":4,"x":0.316,"y":1.81},{"c":"C109","i":5,"x":0.36,"y":2.53},{"c":"C109","i":6,"x":0.403,"y":3.26},{"c":"C109","i":7,"x":0.447,"y":4.0},{"c":"C109","i":8,"x":0.48,"y":5.0},{"c":"C109","i":9,"x":0.512,"y":6.2},{"c":"C109","i":10,"x":0.545,"y":8.0},{"c":"C109","i":11,"x":0.55,"y":8.3},
{"c":"C112","i":0,"x":0,"y":0},{"c":"C112","i":1,"x":0.067,"y":0.17},{"c":"C112","i":2,"x":0.168,"y":0.54},{"c":"C112","i":3,"x":0.258,"y":1.08},{"c":"C112","i":4,"x":0.325,"y":1.81},{"c":"C112","i":5,"x":0.37,"y":2.53},{"c":"C112","i":6,"x":0.414,"y":3.26},{"c":"C112","i":7,"x":0.459,"y":4.0},{"c":"C112","i":8,"x":0.493,"y":5.0},{"c":"C112","i":9,"x":0.526,"y":6.2},{"c":"C112","i":10,"x":0.56,"y":8.0},{"c":"C112","i":11,"x":0.566,"y":8.3},
{"c":"C115","i":0,"x":0,"y":0},{"c":"C115","i":1,"x":0.069,"y":0.17},{"c":"C115","i":2,"x":0.173,"y":0.54},{"c":"C115","i":3,"x":0.265,"y":1.08},{"c":"C115","i":4,"x":0.334,"y":1.81},{"c":"C115","i":5,"x":0.38,"y":2.53},{"c":"C115","i":6,"x":0.426,"y":3.26},{"c":"C115","i":7,"x":0.472,"y":4.0},{"c":"C115","i":8,"x":0.506,"y":5.0},{"c":"C115","i":9,"x":0.541,"y":6.2},{"c":"C115","i":10,"x":0.575,"y":8.0},{"c":"C115","i":11,"x":0.581,"y":8.3},
{"c":"C118","i":0,"x":0,"y":0},{"c":"C118","i":1,"x":0.071,"y":0.17},{"c":"C118","i":2,"x":0.177,"y":0.54},{"c":"C118","i":3,"x":0.271,"y":1.08},{"c":"C118","i":4,"x":0.342,"y":1.81},{"c":"C118","i":5,"x":0.389,"y":2.53},{"c":"C118","i":6,"x":0.437,"y":3.26},{"c":"C118","i":7,"x":0.484,"y":4.0},{"c":"C118","i":8,"x":0.519,"y":5.0},{"c":"C118","i":9,"x":0.555,"y":6.2},{"c":"C118","i":10,"x":0.59,"y":8.0},{"c":"C118","i":11,"x":0.596,"y":8.3},
{"c":"C122","i":0,"x":0,"y":0},{"c":"C122","i":1,"x":0.073,"y":0.17},{"c":"C122","i":2,"x":0.183,"y":0.54},{"c":"C122","i":3,"x":0.281,"y":1.08},{"c":"C122","i":4,"x":0.354,"y":1.81},{"c":"C122","i":5,"x":0.403,"y":2.53},{"c":"C122","i":6,"x":0.451,"y":3.26},{"c":"C122","i":7,"x":0.5,"y":4.0},{"c":"C122","i":8,"x":0.537,"y":5.0},{"c":"C122","i":9,"x":0.573,"y":6.2},{"c":"C122","i":10,"x":0.61,"y":8.0},{"c":"C122","i":11,"x":0.616,"y":8.3},
{"c":"C125","i":0,"x":0,"y":0},{"c":"C125","i":1,"x":0.075,"y":0.17},{"c":"C125","i":2,"x":0.188,"y":0.54},{"c":"C125","i":3,"x":0.288,"y":1.08},{"c":"C125","i":4,"x":0.363,"y":1.81},{"c":"C125","i":5,"x":0.413,"y":2.53},{"c":"C125","i":6,"x":0.463,"y":3.26},{"c":"C125","i":7,"x":0.513,"y":4.0},{"c":"C125","i":8,"x":0.55,"y":5.0},{"c":"C125","i":9,"x":0.588,"y":6.2},{"c":"C125","i":10,"x":0.625,"y":8.0},{"c":"C125","i":11,"x":0.631,"y":8.3},
{"c":"C128","i":0,"x":0,"y":0},{"c":"C128","i":1,"x":0.077,"y":0.17},{"c":"C128","i":2,"x":0.192,"y":0.54},{"c":"C128","i":3,"x":0.294,"y":1.08},{"c":"C128","i":4,"x":0.371,"y":1.81},{"c":"C128","i":5,"x":0.422,"y":2.53},{"c":"C128","i":6,"x":0.474,"y":3.26},{"c":"C128","i":7,"x":0.525,"y":4.0},{"c":"C128","i":8,"x":0.563,"y":5.0},{"c":"C128","i":9,"x":0.602,"y":6.2},{"c":"C128","i":10,"x":0.64,"y":8.0},{"c":"C128","i":11,"x":0.646,"y":8.3},
{"c":"C132","i":0,"x":0,"y":0},{"c":"C132","i":1,"x":0.079,"y":0.17},{"c":"C132","i":2,"x":0.198,"y":0.54},{"c":"C132","i":3,"x":0.304,"y":1.08},{"c":"C132","i":4,"x":0.383,"y":1.81},{"c":"C132","i":5,"x":0.436,"y":2.53},{"c":"C132","i":6,"x":0.488,"y":3.26},{"c":"C132","i":7,"x":0.541,"y":4.0},{"c":"C132","i":8,"x":0.581,"y":5.0},{"c":"C132","i":9,"x":0.62,"y":6.2},{"c":"C132","i":10,"x":0.66,"y":8.0},{"c":"C132","i":11,"x":0.667,"y":8.3},
{"c":"C136","i":0,"x":0,"y":0},{"c":"C136","i":1,"x":0.082,"y":0.17},{"c":"C136","i":2,"x":0.204,"y":0.54},{"c":"C136","i":3,"x":0.313,"y":1.08},{"c":"C136","i":4,"x":0.394,"y":1.81},{"c":"C136","i":5,"x":0.449,"y":2.53},{"c":"C136","i":6,"x":0.503,"y":3.26},{"c":"C136","i":7,"x":0.558,"y":4.0},{"c":"C136","i":8,"x":0.598,"y":5.0},{"c":"C136","i":9,"x":0.639,"y":6.2},{"c":"C136","i":10,"x":0.68,"y":8.0},{"c":"C136","i":11,"x":0.687,"y":8.3},
{"c":"C140","i":0,"x":0,"y":0},{"c":"C140","i":1,"x":0.084,"y":0.17},{"c":"C140","i":2,"x":0.21,"y":0.54},{"c":"C140","i":3,"x":0.322,"y":1.08},{"c":"C140","i":4,"x":0.406,"y":1.81},{"c":"C140","i":5,"x":0.462,"y":2.53},{"c":"C140","i":6,"x":0.518,"y":3.26},{"c":"C140","i":7,"x":0.574,"y":4.0},{"c":"C140","i":8,"x":0.616,"y":5.0},{"c":"C140","i":9,"x":0.658,"y":6.2},{"c":"C140","i":10,"x":0.7,"y":8.0},{"c":"C140","i":11,"x":0.707,"y":8.3},
{"c":"CS","i":0,"x":0,"y":0},{"c":"CS","i":1,"x":0.09,"y":0.17},{"c":"CS","i":2,"x":0.25,"y":0.54},{"c":"CS","i":3,"x":0.38,"y":1.08},{"c":"CS","i":4,"x":0.46,"y":1.81},{"c":"CS","i":5,"x":0.52,"y":2.53},{"c":"CS","i":6,"x":0.57,"y":3.26},{"c":"CS","i":7,"x":0.61,"y":4.0},{"c":"CS","i":8,"x":0.65,"y":5.0},{"c":"CS","i":9,"x":0.69,"y":6.2},{"c":"CS","i":10,"x":0.73,"y":8.0},{"c":"CS","i":11,"x":0.735,"y":8.3},
{"c":"CL","i":0,"x":0,"y":0},{"c":"CL","i":1,"x":0.2,"y":0.17},{"c":"CL","i":2,"x":0.42,"y":0.54},{"c":"CL","i":3,"x":0.6,"y":1.08},{"c":"CL","i":4,"x":0.7,"y":1.81},{"c":"CL","i":5,"x":0.76,"y":2.53},{"c":"CL","i":6,"x":0.8,"y":3.26},{"c":"CL","i":7,"x":0.84,"y":4.0},{"c":"CL","i":8,"x":0.89,"y":5.0},{"c":"CL","i":9,"x":0.94,"y":6.2},{"c":"CL","i":10,"x":1.01,"y":8.0},{"c":"CL","i":11,"x":1.02,"y":8.3},
{"c":"Ra100","i":0,"x":0,"y":0},{"c":"Ra100","i":1,"x":0.3,"y":0.05},{"c":"Ra100","i":2,"x":0.695,"y":0.12},{"c":"Ra100","i":3,"x":1.02,"y":0.19},{"c":"Ra100","i":4,"x":1.48,"y":0.32},{"c":"Ra100","i":5,"x":1.76,"y":0.43},{"c":"Ra100","i":6,"x":2.1,"y":0.59},{"c":"Ra100","i":7,"x":2.44,"y":0.83},{"c":"Ra100","i":8,"x":2.77,"y":1.1},{"c":"Ra100","i":9,"x":3.08,"y":1.45},{"c":"Ra100","i":10,"x":3.41,"y":1.88},{"c":"Ra100","i":11,"x":3.75,"y":2.46},{"c":"Ra100","i":12,"x":4.07,"y":3.22},{"c":"Ra100","i":13,"x":4.18,"y":3.6},{"c":"Ra100","i":14,"x":4.24,"y":4.0},{"c":"Ra100","i":15,"x":4.28,"y":4.5},{"c":"Ra100","i":16,"x":4.295,"y":5.0},{"c":"Ra100","i":17,"x":4.27,"y":6.0},{"c":"Ra100","i":18,"x":4.12,"y":7.0},{"c":"Ra100","i":19,"x":3.86,"y":8.0},{"c":"Ra100","i":20,"x":3.77,"y":8.3},
{"c":"Ra95","i":0,"x":0,"y":0},{"c":"Ra95","i":1,"x":0.3,"y":0.05},{"c":"Ra95","i":2,"x":0.695,"y":0.12},{"c":"Ra95","i":3,"x":1.02,"y":0.19},{"c":"Ra95","i":4,"x":1.481,"y":0.32},{"c":"Ra95","i":5,"x":1.761,"y":0.43},{"c":"Ra95","i":6,"x":2.102,"y":0.59},{"c":"Ra95","i":7,"x":2.444,"y":0.83},{"c":"Ra95","i":8,"x":2.775,"y":1.1},{"c":"Ra95","i":9,"x":3.088,"y":1.45},{"c":"Ra95","i":10,"x":3.42,"y":1.88},{"c":"Ra95","i":11,"x":3.761,"y":2.46},{"c":"Ra95","i":12,"x":4.083,"y":3.22},{"c":"Ra95","i":13,"x":4.197,"y":3.6},{"c":"Ra95","i":14,"x":4.261,"y":4.0},{"c":"Ra95","i":15,"x":4.303,"y":4.5},{"c":"Ra95","i":16,"x":4.321,"y":5.0},{"c":"Ra95","i":17,"x":4.302,"y":6.0},{"c":"Ra95","i":18,"x":4.16,"y":7.0},{"c":"Ra95","i":19,"x":3.911,"y":8.0},{"c":"Ra95","i":20,"x":3.824,"y":8.3},
{"c":"Ra91","i":0,"x":0,"y":0},{"c":"Ra91","i":1,"x":0.3,"y":0.05},{"c":"Ra91","i":2,"x":0.695,"y":0.12},{"c":"Ra91","i":3,"x":1.021,"y":0.19},{"c":"Ra91","i":4,"x":1.482,"y":0.32},{"c":"Ra91","i":5,"x":1.763,"y":0.43},{"c":"Ra91","i":6,"x":2.104,"y":0.59},{"c":"Ra91","i":7,"x":2.447,"y":0.83},{"c":"Ra91","i":8,"x":2.78,"y":1.1},{"c":"Ra91","i":9,"x":3.094,"y":1.45},{"c":"Ra91","i":10,"x":3.428,"y":1.88},{"c":"Ra91","i":11,"x":3.77,"y":2.46},{"c":"Ra91","i":12,"x":4.093,"y":3.22},{"c":"Ra91","i":13,"x":4.211,"y":3.6},{"c":"Ra91","i":14,"x":4.278,"y":4.0},{"c":"Ra91","i":15,"x":4.322,"y":4.5},{"c":"Ra91","i":16,"x":4.342,"y":5.0},{"c":"Ra91","i":17,"x":4.328,"y":6.0},{"c":"Ra91","i":18,"x":4.192,"y":7.0},{"c":"Ra91","i":19,"x":3.952,"y":8.0},{"c":"Ra91","i":20,"x":3.868,"y":8.3},
{"c":"Ra86","i":0,"x":0,"y":0},{"c":"Ra86","i":1,"x":0.3,"y":0.05},{"c":"Ra86","i":2,"x":0.696,"y":0.12},{"c":"Ra86","i":3,"x":1.021,"y":0.19},{"c":"Ra86","i":4,"x":1.483,"y":0.32},{"c":"Ra86","i":5,"x":1.764,"y":0.43},{"c":"Ra86","i":6,"x":2.107,"y":0.59},{"c":"Ra86","i":7,"x":2.451,"y":0.83},{"c":"Ra86","i":8,"x":2.785,"y":1.1},{"c":"Ra86","i":9,"x":3.102,"y":1.45},{"c":"Ra86","i":10,"x":3.438,"y":1.88},{"c":"Ra86","i":11,"x":3.781,"y":2.46},{"c":"Ra86","i":12,"x":4.106,"y":3.22},{"c":"Ra86","i":13,"x":4.228,"y":3.6},{"c":"Ra86","i":14,"x":4.299,"y":4.0},{"c":"Ra86","i":15,"x":4.346,"y":4.5},{"c":"Ra86","i":16,"x":4.368,"y":5.0},{"c":"Ra86","i":17,"x":4.36,"y":6.0},{"c":"Ra86","i":18,"x":4.232,"y":7.0},{"c":"Ra86","i":19,"x":4.003,"y":8.0},{"c":"Ra86","i":20,"x":3.923,"y":8.3},
{"c":"Ra82","i":0,"x":0,"y":0},{"c":"Ra82","i":1,"x":0.3,"y":0.05},{"c":"Ra82","i":2,"x":0.696,"y":0.12},{"c":"Ra82","i":3,"x":1.022,"y":0.19},{"c":"Ra82","i":4,"x":1.484,"y":0.32},{"c":"Ra82","i":5,"x":1.765,"y":0.43},{"c":"Ra82","i":6,"x":2.109,"y":0.59},{"c":"Ra82","i":7,"x":2.454,"y":0.83},{"c":"Ra82","i":8,"x":2.79,"y":1.1},{"c":"Ra82","i":9,"x":3.109,"y":1.45},{"c":"Ra82","i":10,"x":3.446,"y":1.88},{"c":"Ra82","i":11,"x":3.79,"y":2.46},{"c":"Ra82","i":12,"x":4.117,"y":3.22},{"c":"Ra82","i":13,"x":4.241,"y":3.6},{"c":"Ra82","i":14,"x":4.316,"y":4.0},{"c":"Ra82","i":15,"x":4.365,"y":4.5},{"c":"Ra82","i":16,"x":4.389,"y":5.0},{"c":"Ra82","i":17,"x":4.385,"y":6.0},{"c":"Ra82","i":18,"x":4.264,"y":7.0},{"c":"Ra82","i":19,"x":4.044,"y":8.0},{"c":"Ra82","i":20,"x":3.966,"y":8.3},
{"c":"Ra70","i":0,"x":0,"y":0},{"c":"Ra70","i":1,"x":0.3,"y":0.05},{"c":"Ra70","i":2,"x":0.696,"y":0.12},{"c":"Ra70","i":3,"x":1.023,"y":0.19},{"c":"Ra70","i":4,"x":1.486,"y":0.32},{"c":"Ra70","i":5,"x":1.769,"y":0.43},{"c":"Ra70","i":6,"x":2.115,"y":0.59},{"c":"Ra70","i":7,"x":2.464,"y":0.83},{"c":"Ra70","i":8,"x":2.803,"y":1.1},{"c":"Ra70","i":9,"x":3.128,"y":1.45},{"c":"Ra70","i":10,"x":3.47,"y":1.88},{"c":"Ra70","i":11,"x":3.816,"y":2.46},{"c":"Ra70","i":12,"x":4.148,"y":3.22},{"c":"Ra70","i":13,"x":4.282,"y":3.6},{"c":"Ra70","i":14,"x":4.366,"y":4.0},{"c":"Ra70","i":15,"x":4.421,"y":4.5},{"c":"Ra70","i":16,"x":4.452,"y":5.0},{"c":"Ra70","i":17,"x":4.462,"y":6.0},{"c":"Ra70","i":18,"x":4.36,"y":7.0},{"c":"Ra70","i":19,"x":4.166,"y":8.0},{"c":"Ra70","i":20,"x":4.097,"y":8.3},
{"c":"Ra62","i":0,"x":0,"y":0},{"c":"Ra62","i":1,"x":0.3,"y":0.05},{"c":"Ra62","i":2,"x":0.697,"y":0.12},{"c":"Ra62","i":3,"x":1.024,"y":0.19},{"c":"Ra62","i":4,"x":1.488,"y":0.32},{"c":"Ra62","i":5,"x":1.771,"y":0.43},{"c":"Ra62","i":6,"x":2.119,"y":0.59},{"c":"Ra62","i":7,"x":2.47,"y":0.83},{"c":"Ra62","i":8,"x":2.812,"y":1.1},{"c":"Ra62","i":9,"x":3.141,"y":1.45},{"c":"Ra62","i":10,"x":3.486,"y":1.88},{"c":"Ra62","i":11,"x":3.834,"y":2.46},{"c":"Ra62","i":12,"x":4.169,"y":3.22},{"c":"Ra62","i":13,"x":4.309,"y":3.6},{"c":"Ra62","i":14,"x":4.4,"y":4.0},{"c":"Ra62","i":15,"x":4.459,"y":4.5},{"c":"Ra62","i":16,"x":4.494,"y":5.0},{"c":"Ra62","i":17,"x":4.513,"y":6.0},{"c":"Ra62","i":18,"x":4.424,"y":7.0},{"c":"Ra62","i":19,"x":4.248,"y":8.0},{"c":"Ra62","i":20,"x":4.184,"y":8.3},
{"c":"Ra57","i":0,"x":0,"y":0},{"c":"Ra57","i":1,"x":0.3,"y":0.05},{"c":"Ra57","i":2,"x":0.697,"y":0.12},{"c":"Ra57","i":3,"x":1.024,"y":0.19},{"c":"Ra57","i":4,"x":1.489,"y":0.32},{"c":"Ra57","i":5,"x":1.773,"y":0.43},{"c":"Ra57","i":6,"x":2.121,"y":0.59},{"c":"Ra57","i":7,"x":2.474,"y":0.83},{"c":"Ra57","i":8,"x":2.817,"y":1.1},{"c":"Ra57","i":9,"x":3.149,"y":1.45},{"c":"Ra57","i":10,"x":3.496,"y":1.88},{"c":"Ra57","i":11,"x":3.845,"y":2.46},{"c":"Ra57","i":12,"x":4.182,"y":3.22},{"c":"Ra57","i":13,"x":4.326,"y":3.6},{"c":"Ra57","i":14,"x":4.421,"y":4.0},{"c":"Ra57","i":15,"x":4.482,"y":4.5},{"c":"Ra57","i":16,"x":4.521,"y":5.0},{"c":"Ra57","i":17,"x":4.545,"y":6.0},{"c":"Ra57","i":18,"x":4.464,"y":7.0},{"c":"Ra57","i":19,"x":4.299,"y":8.0},{"c":"Ra57","i":20,"x":4.239,"y":8.3},
{"c":"Ra50","i":0,"x":0,"y":0},{"c":"Ra50","i":1,"x":0.3,"y":0.05},{"c":"Ra50","i":2,"x":0.697,"y":0.12},{"c":"Ra50","i":3,"x":1.025,"y":0.19},{"c":"Ra50","i":4,"x":1.49,"y":0.32},{"c":"Ra50","i":5,"x":1.775,"y":0.43},{"c":"Ra50","i":6,"x":2.125,"y":0.59},{"c":"Ra50","i":7,"x":2.48,"y":0.83},{"c":"Ra50","i":8,"x":2.825,"y":1.1},{"c":"Ra50","i":9,"x":3.16,"y":1.45},{"c":"Ra50","i":10,"x":3.51,"y":1.88},{"c":"Ra50","i":11,"x":3.86,"y":2.46},{"c":"Ra50","i":12,"x":4.2,"y":3.22},{"c":"Ra50","i":13,"x":4.35,"y":3.6},{"c":"Ra50","i":14,"x":4.45,"y":4.0},{"c":"Ra50","i":15,"x":4.515,"y":4.5},{"c":"Ra50","i":16,"x":4.557,"y":5.0},{"c":"Ra50","i":17,"x":4.59,"y":6.0},{"c":"Ra50","i":18,"x":4.52,"y":7.0},{"c":"Ra50","i":19,"x":4.37,"y":8.0},{"c":"Ra50","i":20,"x":4.315,"y":8.3},
{"c":"Ra45","i":0,"x":0,"y":0},{"c":"Ra45","i":1,"x":0.3,"y":0.05},{"c":"Ra45","i":2,"x":0.698,"y":0.12},{"c":"Ra45","i":3,"x":1.025,"y":0.19},{"c":"Ra45","i":4,"x":1.491,"y":0.32},{"c":"Ra45","i":5,"x":1.776,"y":0.43},{"c":"Ra45","i":6,"x":2.127,"y":0.59},{"c":"Ra45","i":7,"x":2.484,"y":0.83},{"c":"Ra45","i":8,"x":2.83,"y":1.1},{"c":"Ra45","i":9,"x":3.168,"y":1.45},{"c":"Ra45","i":10,"x":3.52,"y":1.88},{"c":"Ra45","i":11,"x":3.871,"y":2.46},{"c":"Ra45","i":12,"x":4.213,"y":3.22},{"c":"Ra45","i":13,"x":4.367,"y":3.6},{"c":"Ra45","i":14,"x":4.471,"y":4.0},{"c":"Ra45","i":15,"x":4.538,"y":4.5},{"c":"Ra45","i":16,"x":4.584,"y":5.0},{"c":"Ra45","i":17,"x":4.622,"y":6.0},{"c":"Ra45","i":18,"x":4.56,"y":7.0},{"c":"Ra45","i":19,"x":4.421,"y":8.0},{"c":"Ra45","i":20,"x":4.369,"y":8.3},
{"c":"Ra41","i":0,"x":0,"y":0},{"c":"Ra41","i":1,"x":0.3,"y":0.05},{"c":"Ra41","i":2,"x":0.698,"y":0.12},{"c":"Ra41","i":3,"x":1.026,"y":0.19},{"c":"Ra41","i":4,"x":1.492,"y":0.32},{"c":"Ra41","i":5,"x":1.778,"y":0.43},{"c":"Ra41","i":6,"x":2.129,"y":0.59},{"c":"Ra41","i":7,"x":2.487,"y":0.83},{"c":"Ra41","i":8,"x":2.835,"y":1.1},{"c":"Ra41","i":9,"x":3.174,"y":1.45},{"c":"Ra41","i":10,"x":3.528,"y":1.88},{"c":"Ra41","i":11,"x":3.88,"y":2.46},{"c":"Ra41","i":12,"x":4.223,"y":3.22},{"c":"Ra41","i":13,"x":4.381,"y":3.6},{"c":"Ra41","i":14,"x":4.488,"y":4.0},{"c":"Ra41","i":15,"x":4.557,"y":4.5},{"c":"Ra41","i":16,"x":4.605,"y":5.0},{"c":"Ra41","i":17,"x":4.648,"y":6.0},{"c":"Ra41","i":18,"x":4.592,"y":7.0},{"c":"Ra41","i":19,"x":4.462,"y":8.0},{"c":"Ra41","i":20,"x":4.413,"y":8.3},
{"c":"Ra35","i":0,"x":0,"y":0},{"c":"Ra35","i":1,"x":0.3,"y":0.05},{"c":"Ra35","i":2,"x":0.698,"y":0.12},{"c":"Ra35","i":3,"x":1.026,"y":0.19},{"c":"Ra35","i":4,"x":1.493,"y":0.32},{"c":"Ra35","i":5,"x":1.779,"y":0.43},{"c":"Ra35","i":6,"x":2.132,"y":0.59},{"c":"Ra35","i":7,"x":2.492,"y":0.83},{"c":"Ra35","i":8,"x":2.841,"y":1.1},{"c":"Ra35","i":9,"x":3.184,"y":1.45},{"c":"Ra35","i":10,"x":3.54,"y":1.88},{"c":"Ra35","i":11,"x":3.893,"y":2.46},{"c":"Ra35","i":12,"x":4.239,"y":3.22},{"c":"Ra35","i":13,"x":4.401,"y":3.6},{"c":"Ra35","i":14,"x":4.513,"y":4.0},{"c":"Ra35","i":15,"x":4.585,"y":4.5},{"c":"Ra35","i":16,"x":4.636,"y":5.0},{"c":"Ra35","i":17,"x":4.686,"y":6.0},{"c":"Ra35","i":18,"x":4.64,"y":7.0},{"c":"Ra35","i":19,"x":4.523,"y":8.0},{"c":"Ra35","i":20,"x":4.478,"y":8.3},
{"c":"Ra30","i":0,"x":0,"y":0},{"c":"Ra30","i":1,"x":0.3,"y":0.05},{"c":"Ra30","i":2,"x":0.698,"y":0.12},{"c":"Ra30","i":3,"x":1.027,"y":0.19},{"c":"Ra30","i":4,"x":1.494,"y":0.32},{"c":"Ra30","i":5,"x":1.781,"y":0.43},{"c":"Ra30","i":6,"x":2.135,"y":0.59},{"c":"Ra30","i":7,"x":2.496,"y":0.83},{"c":"Ra30","i":8,"x":2.847,"y":1.1},{"c":"Ra30","i":9,"x":3.192,"y":1.45},{"c":"Ra30","i":10,"x":3.55,"y":1.88},{"c":"Ra30","i":11,"x":3.904,"y":2.46},{"c":"Ra30","i":12,"x":4.252,"y":3.22},{"c":"Ra30","i":13,"x":4.418,"y":3.6},{"c":"Ra30","i":14,"x":4.534,"y":4.0},{"c":"Ra30","i":15,"x":4.609,"y":4.5},{"c":"Ra30","i":16,"x":4.662,"y":5.0},{"c":"Ra30","i":17,"x":4.718,"y":6.0},{"c":"Ra30","i":18,"x":4.68,"y":7.0},{"c":"Ra30","i":19,"x":4.574,"y":8.0},{"c":"Ra30","i":20,"x":4.533,"y":8.3},
{"c":"Ra25","i":0,"x":0,"y":0},{"c":"Ra25","i":1,"x":0.3,"y":0.05},{"c":"Ra25","i":2,"x":0.699,"y":0.12},{"c":"Ra25","i":3,"x":1.027,"y":0.19},{"c":"Ra25","i":4,"x":1.495,"y":0.32},{"c":"Ra25","i":5,"x":1.782,"y":0.43},{"c":"Ra25","i":6,"x":2.137,"y":0.59},{"c":"Ra25","i":7,"x":2.5,"y":0.83},{"c":"Ra25","i":8,"x":2.852,"y":1.1},{"c":"Ra25","i":9,"x":3.2,"y":1.45},{"c":"Ra25","i":10,"x":3.56,"y":1.88},{"c":"Ra25","i":11,"x":3.915,"y":2.46},{"c":"Ra25","i":12,"x":4.265,"y":3.22},{"c":"Ra25","i":13,"x":4.435,"y":3.6},{"c":"Ra25","i":14,"x":4.555,"y":4.0},{"c":"Ra25","i":15,"x":4.632,"y":4.5},{"c":"Ra25","i":16,"x":4.689,"y":5.0},{"c":"Ra25","i":17,"x":4.75,"y":6.0},{"c":"Ra25","i":18,"x":4.72,"y":7.0},{"c":"Ra25","i":19,"x":4.625,"y":8.0},{"c":"Ra25","i":20,"x":4.587,"y":8.3},
{"c":"Ra20","i":0,"x":0,"y":0},{"c":"Ra20","i":1,"x":0.3,"y":0.05},{"c":"Ra20","i":2,"x":0.699,"y":0.12},{"c":"Ra20","i":3,"x":1.028,"y":0.19},{"c":"Ra20","i":4,"x":1.496,"y":0.32},{"c":"Ra20","i":5,"x":1.784,"y":0.43},{"c":"Ra20","i":6,"x":2.14,"y":0.59},{"c":"Ra20","i":7,"x":2.504,"y":0.83},{"c":"Ra20","i":8,"x":2.858,"y":1.1},{"c":"Ra20","i":9,"x":3.208,"y":1.45},{"c":"Ra20","i":10,"x":3.57,"y":1.88},{"c":"Ra20","i":11,"x":3.926,"y":2.46},{"c":"Ra20","i":12,"x":4.278,"y":3.22},{"c":"Ra20","i":13,"x":4.452,"y":3.6},{"c":"Ra20","i":14,"x":4.576,"y":4.0},{"c":"Ra20","i":15,"x":4.656,"y":4.5},{"c":"Ra20","i":16,"x":4.715,"y":5.0},{"c":"Ra20","i":17,"x":4.782,"y":6.0},{"c":"Ra20","i":18,"x":4.76,"y":7.0},{"c":"Ra20","i":19,"x":4.676,"y":8.0},{"c":"Ra20","i":20,"x":4.642,"y":8.3},
{"c":"Ra15","i":0,"x":0,"y":0},{"c":"Ra15","i":1,"x":0.3,"y":0.05},{"c":"Ra15","i":2,"x":0.699,"y":0.12},{"c":"Ra15","i":3,"x":1.028,"y":0.19},{"c":"Ra15","i":4,"x":1.497,"y":0.32},{"c":"Ra15","i":5,"x":1.785,"y":0.43},{"c":"Ra15","i":6,"x":2.142,"y":0.59},{"c":"Ra15","i":7,"x":2.508,"y":0.83},{"c":"Ra15","i":8,"x":2.863,"y":1.1},{"c":"Ra15","i":9,"x":3.216,"y":1.45},{"c":"Ra15","i":10,"x":3.58,"y":1.88},{"c":"Ra15","i":11,"x":3.937,"y":2.46},{"c":"Ra15","i":12,"x":4.291,"y":3.22},{"c":"Ra15","i":13,"x":4.469,"y":3.6},{"c":"Ra15","i":14,"x":4.597,"y":4.0},{"c":"Ra15","i":15,"x":4.679,"y":4.5},{"c":"Ra15","i":16,"x":4.741,"y":5.0},{"c":"Ra15","i":17,"x":4.814,"y":6.0},{"c":"Ra15","i":18,"x":4.8,"y":7.0},{"c":"Ra15","i":19,"x":4.727,"y":8.0},{"c":"Ra15","i":20,"x":4.696,"y":8.3},
{"c":"Ra11","i":0,"x":0,"y":0},{"c":"Ra11","i":1,"x":0.3,"y":0.05},{"c":"Ra11","i":2,"x":0.699,"y":0.12},{"c":"Ra11","i":3,"x":1.029,"y":0.19},{"c":"Ra11","i":4,"x":1.498,"y":0.32},{"c":"Ra11","i":5,"x":1.787,"y":0.43},{"c":"Ra11","i":6,"x":2.144,"y":0.59},{"c":"Ra11","i":7,"x":2.511,"y":0.83},{"c":"Ra11","i":8,"x":2.868,"y":1.1},{"c":"Ra11","i":9,"x":3.222,"y":1.45},{"c":"Ra11","i":10,"x":3.588,"y":1.88},{"c":"Ra11","i":11,"x":3.946,"y":2.46},{"c":"Ra11","i":12,"x":4.301,"y":3.22},{"c":"Ra11","i":13,"x":4.483,"y":3.6},{"c":"Ra11","i":14,"x":4.614,"y":4.0},{"c":"Ra11","i":15,"x":4.698,"y":4.5},{"c":"Ra11","i":16,"x":4.762,"y":5.0},{"c":"Ra11","i":17,"x":4.84,"y":6.0},{"c":"Ra11","i":18,"x":4.832,"y":7.0},{"c":"Ra11","i":19,"x":4.768,"y":8.0},{"c":"Ra11","i":20,"x":4.74,"y":8.3},
{"c":"Ra05","i":0,"x":0,"y":0},{"c":"Ra05","i":1,"x":0.3,"y":0.05},{"c":"Ra05","i":2,"x":0.7,"y":0.12},{"c":"Ra05","i":3,"x":1.029,"y":0.19},{"c":"Ra05","i":4,"x":1.499,"y":0.32},{"c":"Ra05","i":5,"x":1.788,"y":0.43},{"c":"Ra05","i":6,"x":2.147,"y":0.59},{"c":"Ra05","i":7,"x":2.516,"y":0.83},{"c":"Ra05","i":8,"x":2.874,"y":1.1},{"c":"Ra05","i":9,"x":3.232,"y":1.45},{"c":"Ra05","i":10,"x":3.6,"y":1.88},{"c":"Ra05","i":11,"x":3.959,"y":2.46},{"c":"Ra05","i":12,"x":4.317,"y":3.22},{"c":"Ra05","i":13,"x":4.503,"y":3.6},{"c":"Ra05","i":14,"x":4.639,"y":4.0},{"c":"Ra05","i":15,"x":4.726,"y":4.5},{"c":"Ra05","i":16,"x":4.794,"y":5.0},{"c":"Ra05","i":17,"x":4.878,"y":6.0},{"c":"Ra05","i":18,"x":4.88,"y":7.0},{"c":"Ra05","i":19,"x":4.829,"y":8.0},{"c":"Ra05","i":20,"x":4.805,"y":8.3},
{"c":"Rb15","i":0,"x":0,"y":0},{"c":"Rb15","i":1,"x":0.3,"y":0.05},{"c":"Rb15","i":2,"x":0.702,"y":0.12},{"c":"Rb15","i":3,"x":1.035,"y":0.19},{"c":"Rb15","i":4,"x":1.509,"y":0.32},{"c":"Rb15","i":5,"x":1.804,"y":0.43},{"c":"Rb15","i":6,"x":2.17,"y":0.59},{"c":"Rb15","i":7,"x":2.547,"y":0.83},{"c":"Rb15","i":8,"x":2.913,"y":1.1},{"c":"Rb15","i":9,"x":3.281,"y":1.45},{"c":"Rb15","i":10,"x":3.655,"y":1.88},{"c":"Rb15","i":11,"x":4.017,"y":2.46},{"c":"Rb15","i":12,"x":4.38,"y":3.22},{"c":"Rb15","i":13,"x":4.565,"y":3.6},{"c":"Rb15","i":14,"x":4.7,"y":4.0},{"c":"Rb15","i":15,"x":4.79,"y":4.5},{"c":"Rb15","i":16,"x":4.86,"y":5.0},{"c":"Rb15","i":17,"x":4.95,"y":6.0},{"c":"Rb15","i":18,"x":4.97,"y":7.0},{"c":"Rb15","i":19,"x":4.95,"y":8.0},{"c":"Rb15","i":20,"x":4.94,"y":8.3},
{"c":"Rb30","i":0,"x":0,"y":0},{"c":"Rb30","i":1,"x":0.3,"y":0.05},{"c":"Rb30","i":2,"x":0.703,"y":0.12},{"c":"Rb30","i":3,"x":1.039,"y":0.19},{"c":"Rb30","i":4,"x":1.518,"y":0.32},{"c":"Rb30","i":5,"x":1.817,"y":0.43},{"c":"Rb30","i":6,"x":2.189,"y":0.59},{"c":"Rb30","i":7,"x":2.574,"y":0.83},{"c":"Rb30","i":8,"x":2.946,"y":1.1},{"c":"Rb30","i":9,"x":3.321,"y":1.45},{"c":"Rb30","i":10,"x":3.7,"y":1.88},{"c":"Rb30","i":11,"x":4.063,"y":2.46},{"c":"Rb30","i":12,"x":4.429,"y":3.22},{"c":"Rb30","i":13,"x":4.615,"y":3.6},{"c":"Rb30","i":14,"x":4.755,"y":4.0},{"c":"Rb30","i":15,"x":4.85,"y":4.5},{"c":"Rb30","i":16,"x":4.925,"y":5.0},{"c":"Rb30","i":17,"x":5.02,"y":6.0},{"c":"Rb30","i":18,"x":5.05,"y":7.0},
{"c":"Rb45","i":0,"x":0,"y":0},{"c":"Rb45","i":1,"x":0.3,"y":0.05},{"c":"Rb45","i":2,"x":0.705,"y":0.12},{"c":"Rb45","i":3,"x":1.044,"y":0.19},{"c":"Rb45","i":4,"x":1.527,"y":0.32},{"c":"Rb45","i":5,"x":1.831,"y":0.43},{"c":"Rb45","i":6,"x":2.209,"y":0.59},{"c":"Rb45","i":7,"x":2.601,"y":0.83},{"c":"Rb45","i":8,"x":2.979,"y":1.1},{"c":"Rb45","i":9,"x":3.362,"y":1.45},{"c":"Rb45","i":10,"x":3.745,"y":1.88},{"c":"Rb45","i":11,"x":4.11,"y":2.46},{"c":"Rb45","i":12,"x":4.479,"y":3.22},{"c":"Rb45","i":13,"x":4.668,"y":3.6},{"c":"Rb45","i":14,"x":4.81,"y":4.0},{"c":"Rb45","i":15,"x":4.91,"y":4.5},{"c":"Rb45","i":16,"x":4.99,"y":5.0},{"c":"Rb45","i":17,"x":5.08,"y":6.0},
{"c":"Rb60","i":0,"x":0,"y":0},{"c":"Rb60","i":1,"x":0.3,"y":0.05},{"c":"Rb60","i":2,"x":0.706,"y":0.12},{"c":"Rb60","i":3,"x":1.048,"y":0.19},{"c":"Rb60","i":4,"x":1.536,"y":0.32},{"c":"Rb60","i":5,"x":1.844,"y":0.43},{"c":"Rb60","i":6,"x":2.228,"y":0.59},{"c":"Rb60","i":7,"x":2.628,"y":0.83},{"c":"Rb60","i":8,"x":3.012,"y":1.1},{"c":"Rb60","i":9,"x":3.402,"y":1.45},{"c":"Rb60","i":10,"x":3.79,"y":1.88},{"c":"Rb60","i":11,"x":4.156,"y":2.46},{"c":"Rb60","i":12,"x":4.528,"y":3.22},{"c":"Rb60","i":13,"x":4.72,"y":3.6},{"c":"Rb60","i":14,"x":4.865,"y":4.0},{"c":"Rb60","i":15,"x":4.97,"y":4.5},{"c":"Rb60","i":16,"x":5.05,"y":5.0},
{"c":"Rb75","i":0,"x":0,"y":0},{"c":"Rb75","i":1,"x":0.3,"y":0.05},{"c":"Rb75","i":2,"x":0.708,"y":0.12},{"c":"Rb75","i":3,"x":1.053,"y":0.19},{"c":"Rb75","i":4,"x":1.545,"y":0.32},{"c":"Rb75","i":5,"x":1.858,"y":0.43},{"c":"Rb75","i":6,"x":2.248,"y":0.59},{"c":"Rb75","i":7,"x":2.655,"y":0.83},{"c":"Rb75","i":8,"x":3.045,"y":1.1},{"c":"Rb75","i":9,"x":3.443,"y":1.45},{"c":"Rb75","i":10,"x":3.835,"y":1.88},{"c":"Rb75","i":11,"x":4.203,"y":2.46},{"c":"Rb75","i":12,"x":4.578,"y":3.22},{"c":"Rb75","i":13,"x":4.775,"y":3.6},{"c":"Rb75","i":14,"x":4.923,"y":4.0},{"c":"Rb75","i":15,"x":5.02,"y":4.5},
{"c":"Rb90","i":0,"x":0,"y":0},{"c":"Rb90","i":1,"x":0.3,"y":0.05},{"c":"Rb90","i":2,"x":0.709,"y":0.12},{"c":"Rb90","i":3,"x":1.057,"y":0.19},{"c":"Rb90","i":4,"x":1.554,"y":0.32},{"c":"Rb90","i":5,"x":1.871,"y":0.43},{"c":"Rb90","i":6,"x":2.267,"y":0.59},{"c":"Rb90","i":7,"x":2.682,"y":0.83},{"c":"Rb90","i":8,"x":3.078,"y":1.1},{"c":"Rb90","i":9,"x":3.483,"y":1.45},{"c":"Rb90","i":10,"x":3.88,"y":1.88},{"c":"Rb90","i":11,"x":4.249,"y":2.46},{"c":"Rb90","i":12,"x":4.627,"y":3.22},{"c":"Rb90","i":13,"x":4.826,"y":3.6},{"c":"Rb90","i":14,"x":4.975,"y":4.0},{"c":"Rb90","i":15,"x":5.07,"y":4.5},
{"c":"Rb100","i":0,"x":0,"y":0},{"c":"Rb100","i":1,"x":0.3,"y":0.05},{"c":"Rb100","i":2,"x":0.71,"y":0.12},{"c":"Rb100","i":3,"x":1.06,"y":0.19},{"c":"Rb100","i":4,"x":1.56,"y":0.32},{"c":"Rb100","i":5,"x":1.88,"y":0.43},{"c":"Rb100","i":6,"x":2.28,"y":0.59},{"c":"Rb100","i":7,"x":2.7,"y":0.83},{"c":"Rb100","i":8,"x":3.1,"y":1.1},{"c":"Rb100","i":9,"x":3.51,"y":1.45},{"c":"Rb100","i":10,"x":3.91,"y":1.88},{"c":"Rb100","i":11,"x":4.28,"y":2.46},{"c":"Rb100","i":12,"x":4.66,"y":3.22},{"c":"Rb100","i":13,"x":4.86,"y":3.6},{"c":"Rb100","i":14,"x":5.01,"y":4.0},{"c":"Rb100","i":15,"x":5.1,"y":4.5},
{"c":"RL2","i":0,"x":0,"y":0},{"c":"RL2","i":1,"x":0.3,"y":0.05},{"c":"RL2","i":2,"x":0.692,"y":0.12},{"c":"RL2","i":3,"x":1.015,"y":0.19},{"c":"RL2","i":4,"x":1.47,"y":0.32},{"c":"RL2","i":5,"x":1.745,"y":0.43},{"c":"RL2","i":6,"x":2.085,"y":0.59},{"c":"RL2","i":7,"x":2.425,"y":0.83},{"c":"RL2","i":8,"x":2.73,"y":1.1},{"c":"RL2","i":9,"x":2.98,"y":1.45},{"c":"RL2","i":10,"x":3.27,"y":1.88},{"c":"RL2","i":11,"x":3.64,"y":2.46},{"c":"RL2","i":12,"x":3.97,"y":3.22},{"c":"RL2","i":13,"x":4.09,"y":3.6},{"c":"RL2","i":14,"x":4.17,"y":4.0},{"c":"RL2","i":15,"x":4.22,"y":4.5},{"c":"RL2","i":16,"x":4.25,"y":5.0},{"c":"RL2","i":17,"x":4.22,"y":6.0},{"c":"RL2","i":18,"x":4.05,"y":7.0},{"c":"RL2","i":19,"x":3.8,"y":8.0},{"c":"RL2","i":20,"x":3.72,"y":8.3},
{"c":"RL","i":0,"x":0,"y":0},{"c":"RL","i":1,"x":0.3,"y":0.05},{"c":"RL","i":2,"x":0.69,"y":0.12},{"c":"RL","i":3,"x":1.01,"y":0.19},{"c":"RL","i":4,"x":1.46,"y":0.32},{"c":"RL","i":5,"x":1.73,"y":0.43},{"c":"RL","i":6,"x":2.07,"y":0.59},{"c":"RL","i":7,"x":2.41,"y":0.83},{"c":"RL","i":8,"x":2.71,"y":1.1},{"c":"RL","i":9,"x":2.94,"y":1.45},{"c":"RL","i":10,"x":3.21,"y":1.88},{"c":"RL","i":11,"x":3.53,"y":2.46},{"c":"RL","i":12,"x":3.86,"y":3.22},{"c":"RL","i":13,"x":3.97,"y":3.6},{"c":"RL","i":14,"x":4.04,"y":4.0},{"c":"RL","i":15,"x":4.09,"y":4.6},{"c":"RL","i":16,"x":4.1,"y":5.1},{"c":"RL","i":17,"x":4.05,"y":5.7},{"c":"RL","i":18,"x":3.93,"y":6.2},{"c":"RL","i":19,"x":3.82,"y":6.65},{"c":"RL","i":20,"x":3.68,"y":7.11},{"c":"RL","i":21,"x":3.53,"y":7.5},{"c":"RL","i":22,"x":3.37,"y":7.89},
{"c":"SR1","i":0,"x":0,"y":0},{"c":"SR1","i":1,"x":0.2,"y":0.06},{"c":"SR1","i":2,"x":0.45,"y":0.14},{"c":"SR1","i":3,"x":0.65,"y":0.21},{"c":"SR1","i":4,"x":0.8,"y":0.26},{"c":"SR1","i":5,"x":0.86,"y":0.24},{"c":"SR1","i":6,"x":0.8,"y":0.19},{"c":"SR1","i":7,"x":0.6,"y":0.12},{"c":"SR1","i":8,"x":0.4,"y":0.07},{"c":"SR1","i":9,"x":0.25,"y":0.04},
{"c":"SR2","i":0,"x":0,"y":0},{"c":"SR2","i":1,"x":0.25,"y":0.09},{"c":"SR2","i":2,"x":0.45,"y":0.17},{"c":"SR2","i":3,"x":0.6,"y":0.22},{"c":"SR2","i":4,"x":0.7,"y":0.23},{"c":"SR2","i":5,"x":0.72,"y":0.2},{"c":"SR2","i":6,"x":0.6,"y":0.15},{"c":"SR2","i":7,"x":0.4,"y":0.09},
{"c":"HM","i":0,"x":1.01,"y":0.88},{"c":"HM","i":1,"x":1.2,"y":1.0},{"c":"HM","i":2,"x":1.39,"y":1.06},{"c":"HM","i":3,"x":1.53,"y":1.02},{"c":"HM","i":4,"x":1.59,"y":0.9},{"c":"HM","i":5,"x":1.5,"y":0.65},{"c":"HM","i":6,"x":1.21,"y":0.39},{"c":"HM","i":7,"x":0.9,"y":0.22},{"c":"HM","i":8,"x":0.66,"y":0.14},{"c":"HM","i":9,"x":0.35,"y":0.05},{"c":"HM","i":10,"x":0,"y":0},
{"c":"HB","i":0,"x":2.03,"y":3.22},{"c":"HB","i":1,"x":2.33,"y":3.08},{"c":"HB","i":2,"x":2.55,"y":2.72},{"c":"HB","i":3,"x":2.66,"y":2.24},{"c":"HB","i":4,"x":2.64,"y":1.81},{"c":"HB","i":5,"x":2.52,"y":1.37},{"c":"HB","i":6,"x":2.26,"y":0.97},{"c":"HB","i":7,"x":1.79,"y":0.59},{"c":"HB","i":8,"x":1.3,"y":0.35},{"c":"HB","i":9,"x":0.8,"y":0.17},{"c":"HB","i":10,"x":0.4,"y":0.06},{"c":"HB","i":11,"x":0,"y":0},
{"c":"TL","i":0,"x":-3.05,"y":7.8},{"c":"TL","i":1,"x":-2.97,"y":8.0},{"c":"TL","i":2,"x":-2.95,"y":8.1}
],
"gr":[
{"c":"G282","i":0,"x":0,"y":0},{"c":"G282","i":1,"x":-0.2,"y":0.33},{"c":"G282","i":2,"x":-0.4,"y":0.71},{"c":"G282","i":3,"x":-0.74,"y":1.36},{"c":"G282","i":4,"x":-1.1,"y":1.91},{"c":"G282","i":5,"x":-1.48,"y":2.37},{"c":"G282","i":6,"x":-1.85,"y":2.69},{"c":"G282","i":7,"x":-2.3,"y":2.82},{"c":"G282","i":8,"x":-2.64,"y":2.7},{"c":"G282","i":9,"x":-2.93,"y":2.45},{"c":"G282","i":10,"x":-2.97,"y":2.18},{"c":"G282","i":11,"x":-2.94,"y":1.95},{"c":"G282","i":12,"x":-2.88,"y":1.73},{"c":"G282","i":13,"x":-2.8,"y":1.54},{"c":"G282","i":14,"x":-2.7,"y":1.33},{"c":"G282","i":15,"x":-2.55,"y":1.08},{"c":"G282","i":16,"x":-2.38,"y":0.87},{"c":"G282","i":17,"x":-2.2,"y":0.715},{"c":"G282","i":18,"x":-1.98,"y":0.577},{"c":"G282","i":19,"x":-1.75,"y":0.455},{"c":"G282","i":20,"x":-1.48,"y":0.328},{"c":"G282","i":21,"x":-1.1,"y":0.214},{"c":"G282","i":22,"x":-0.74,"y":0.129},{"c":"G282","i":23,"x":-0.4,"y":0.046},{"c":"G282","i":24,"x":0,"y":0},
{"c":"G290","i":0,"x":0,"y":0},{"c":"G290","i":1,"x":-0.2,"y":0.34},{"c":"G290","i":2,"x":-0.4,"y":0.73},{"c":"G290","i":3,"x":-0.74,"y":1.4},{"c":"G290","i":4,"x":-1.1,"y":1.97},{"c":"G290","i":5,"x":-1.48,"y":2.44},{"c":"G290","i":6,"x":-1.85,"y":2.77},{"c":"G290","i":7,"x":-2.3,"y":2.9},{"c":"G290","i":8,"x":-2.65,"y":2.76},{"c":"G290","i":9,"x":-2.95,"y":2.49},{"c":"G290","i":10,"x":-3.0,"y":2.22},{"c":"G290","i":11,"x":-2.97,"y":1.97},{"c":"G290","i":12,"x":-2.91,"y":1.74},{"c":"G290","i":13,"x":-2.83,"y":1.54},{"c":"G290","i":14,"x":-2.73,"y":1.33},{"c":"G290","i":15,"x":-2.58,"y":1.07},{"c":"G290","i":16,"x":-2.4,"y":0.865},{"c":"G290","i":17,"x":-2.2,"y":0.705},{"c":"G290","i":18,"x":-1.98,"y":0.568},{"c":"G290","i":19,"x":-1.75,"y":0.448},{"c":"G290","i":20,"x":-1.48,"y":0.32},{"c":"G290","i":21,"x":-1.1,"y":0.208},{"c":"G290","i":22,"x":-0.74,"y":0.125},{"c":"G290","i":23,"x":-0.4,"y":0.043},{"c":"G290","i":24,"x":0,"y":0},
{"c":"G300","i":0,"x":0,"y":0},{"c":"G300","i":1,"x":-0.2,"y":0.35},{"c":"G300","i":2,"x":-0.4,"y":0.76},{"c":"G300","i":3,"x":-0.74,"y":1.46},{"c":"G300","i":4,"x":-1.1,"y":2.04},{"c":"G300","i":5,"x":-1.48,"y":2.53},{"c":"G300","i":6,"x":-1.85,"y":2.87},{"c":"G300","i":7,"x":-2.3,"y":3.0},{"c":"G300","i":8,"x":-2.66,"y":2.86},{"c":"G300","i":9,"x":-2.97,"y":2.56},{"c":"G300","i":10,"x":-3.02,"y":2.27},{"c":"G300","i":11,"x":-2.99,"y":2.0},{"c":"G300","i":12,"x":-2.94,"y":1.76},{"c":"G300","i":13,"x":-2.86,"y":1.54},{"c":"G300","i":14,"x":-2.76,"y":1.33},{"c":"G300","i":15,"x":-2.61,"y":1.07},{"c":"G300","i":16,"x":-2.43,"y":0.86},{"c":"G300","i":17,"x":-2.2,"y":0.695},{"c":"G300","i":18,"x":-1.98,"y":0.562},{"c":"G300","i":19,"x":-1.75,"y":0.444},{"c":"G300","i":20,"x":-1.48,"y":0.315},{"c":"G300","i":21,"x":-1.1,"y":0.204},{"c":"G300","i":22,"x":-0.74,"y":0.122},{"c":"G300","i":23,"x":-0.4,"y":0.042},{"c":"G300","i":24,"x":0,"y":0},
{"c":"G310","i":0,"x":0,"y":0},{"c":"G310","i":1,"x":-0.2,"y":0.36},{"c":"G310","i":2,"x":-0.4,"y":0.78},{"c":"G310","i":3,"x":-0.74,"y":1.5},{"c":"G310","i":4,"x":-1.1,"y":2.1},{"c":"G310","i":5,"x":-1.48,"y":2.6},{"c":"G310","i":6,"x":-1.85,"y":2.95},{"c":"G310","i":7,"x":-2.3,"y":3.1},{"c":"G310","i":8,"x":-2.67,"y":2.95},{"c":"G310","i":9,"x":-2.99,"y":2.62},{"c":"G310","i":10,"x":-3.04,"y":2.31},{"c":"G310","i":11,"x":-3.01,"y":2.02},{"c":"G310","i":12,"x":-2.96,"y":1.78},{"c":"G310","i":13,"x":-2.88,"y":1.55},{"c":"G310","i":14,"x":-2.78,"y":1.34},{"c":"G310","i":15,"x":-2.63,"y":1.07},{"c":"G310","i":16,"x":-2.45,"y":0.86},{"c":"G310","i":17,"x":-2.22,"y":0.69},{"c":"G310","i":18,"x":-1.98,"y":0.557},{"c":"G310","i":19,"x":-1.75,"y":0.44},{"c":"G310","i":20,"x":-1.48,"y":0.31},{"c":"G310","i":21,"x":-1.1,"y":0.2},{"c":"G310","i":22,"x":-0.74,"y":0.12},{"c":"G310","i":23,"x":-0.4,"y":0.04},{"c":"G310","i":24,"x":0,"y":0},
{"c":"GC","i":0,"x":0,"y":0},{"c":"GC","i":1,"x":0.06,"y":0.17},{"c":"GC","i":2,"x":0.15,"y":0.54},{"c":"GC","i":3,"x":0.23,"y":1.08},{"c":"GC","i":4,"x":0.29,"y":1.81},{"c":"GC","i":5,"x":0.33,"y":2.53},{"c":"GC","i":6,"x":0.37,"y":3.26},{"c":"GC","i":7,"x":0.41,"y":4.0},{"c":"GC","i":8,"x":0.44,"y":5.0},{"c":"GC","i":9,"x":0.47,"y":6.2},{"c":"GC","i":10,"x":0.5,"y":8.0},{"c":"GC","i":11,"x":0.505,"y":8.3},
{"c":"GR","i":0,"x":0,"y":0},{"c":"GR","i":1,"x":0.3,"y":0.05},{"c":"GR","i":2,"x":0.7,"y":0.12},{"c":"GR","i":3,"x":1.03,"y":0.19},{"c":"GR","i":4,"x":1.5,"y":0.32},{"c":"GR","i":5,"x":1.79,"y":0.43},{"c":"GR","i":6,"x":2.15,"y":0.59},{"c":"GR","i":7,"x":2.52,"y":0.83},{"c":"GR","i":8,"x":2.88,"y":1.1},{"c":"GR","i":9,"x":3.24,"y":1.45},{"c":"GR","i":10,"x":3.61,"y":1.88},{"c":"GR","i":11,"x":3.97,"y":2.46},{"c":"GR","i":12,"x":4.33,"y":3.22},{"c":"GR","i":13,"x":4.5,"y":3.6},{"c":"GR","i":14,"x":4.63,"y":4.0},{"c":"GR","i":15,"x":4.73,"y":4.5},{"c":"GR","i":16,"x":4.81,"y":5.0},{"c":"GR","i":17,"x":4.9,"y":6.0},{"c":"GR","i":18,"x":4.92,"y":7.0},{"c":"GR","i":19,"x":4.88,"y":8.0},{"c":"GR","i":20,"x":4.86,"y":8.3}
]
},
"layer":[
 {"data":{"name":"cy"},
  "mark":{"type":"line","clip":true,"color":"#00FFFF","strokeWidth":2.8,"interpolate":"catmull-rom"},
  "encoding":{
   "x":{"field":"x","type":"quantitative","scale":{"domain":[-3,5],"nice":false,"zero":false},"axis":{"orient":"bottom","values":[-2,0,2,4],"labelPadding":22,"labelExpr":"replace(datum.label, '\u2212', '-')","title":"x","titlePadding":0}},
   "y":{"field":"y","type":"quantitative","scale":{"domain":[0,8],"nice":false,"zero":false},"axis":{"orient":"left","values":[1,2,3,4,5,6,7,8],"labelPadding":19,"title":"y","titlePadding":3}},
   "detail":{"field":"c","type":"nominal"},
   "order":{"field":"i","type":"quantitative"}}},
 {"data":{"name":"gr"},
  "mark":{"type":"line","clip":true,"color":"#00FF00","strokeWidth":4,"interpolate":"catmull-rom"},
  "encoding":{
   "x":{"field":"x","type":"quantitative","scale":{"domain":[-3,5],"nice":false,"zero":false},"axis":{"orient":"top","values":[-2,0,2,4],"labels":false,"title":null}},
   "y":{"field":"y","type":"quantitative","scale":{"domain":[0,8],"nice":false,"zero":false},"axis":{"orient":"right","values":[1,2,3,4,5,6,7,8],"labels":false,"title":null}},
   "detail":{"field":"c","type":"nominal"},
   "order":{"field":"i","type":"quantitative"}}}
],
"resolve":{"axis":{"x":"independent","y":"independent"}}
}
